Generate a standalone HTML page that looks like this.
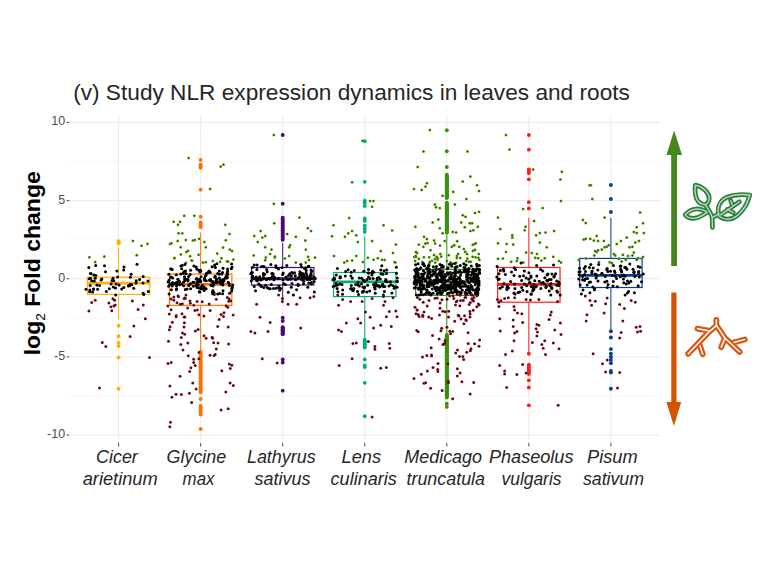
<!DOCTYPE html>
<html><head><meta charset="utf-8"><style>
html,body{margin:0;padding:0;background:#fff;}
svg{display:block;}
.tk{font-family:"Liberation Sans",Arial,sans-serif;font-size:12.5px;fill:#4d4d4d;}
.xl{font-family:"Liberation Sans",Arial,sans-serif;font-style:italic;font-size:17.8px;fill:#262626;}
.ti{font-family:"Liberation Sans",Arial,sans-serif;font-size:21.2px;fill:#262626;}
.yt{font-family:"Liberation Sans",Arial,sans-serif;font-weight:bold;font-size:22.8px;fill:#000;}
</style></head><body>
<svg width="768" height="576" viewBox="0 0 768 576">
<defs><radialGradient id="gg"><stop offset="0" stop-color="#2c5a06"/><stop offset="0.55" stop-color="#3f7a0a"/><stop offset="1" stop-color="#7cc21a"/></radialGradient><radialGradient id="rg"><stop offset="0" stop-color="#4a0610"/><stop offset="0.6" stop-color="#5e0c18"/><stop offset="1" stop-color="#9a1a28"/></radialGradient></defs>
<rect width="768" height="576" fill="#fff"/>
<line x1="69.4" x2="660.1" y1="395.98" y2="395.98" stroke="#f2f2f2" stroke-width="0.6"/>
<line x1="69.4" x2="660.1" y1="317.82" y2="317.82" stroke="#f2f2f2" stroke-width="0.6"/>
<line x1="69.4" x2="660.1" y1="239.68" y2="239.68" stroke="#f2f2f2" stroke-width="0.6"/>
<line x1="69.4" x2="660.1" y1="161.52" y2="161.52" stroke="#f2f2f2" stroke-width="0.6"/>
<line x1="69.4" x2="660.1" y1="435.05" y2="435.05" stroke="#ebebeb" stroke-width="1"/>
<line x1="69.4" x2="660.1" y1="356.90" y2="356.90" stroke="#ebebeb" stroke-width="1"/>
<line x1="69.4" x2="660.1" y1="278.75" y2="278.75" stroke="#ebebeb" stroke-width="1"/>
<line x1="69.4" x2="660.1" y1="200.60" y2="200.60" stroke="#ebebeb" stroke-width="1"/>
<line x1="69.4" x2="660.1" y1="122.45" y2="122.45" stroke="#ebebeb" stroke-width="1"/>
<line x1="118.60" x2="118.60" y1="114.8" y2="443.0" stroke="#ebebeb" stroke-width="1"/>
<line x1="200.65" x2="200.65" y1="114.8" y2="443.0" stroke="#ebebeb" stroke-width="1"/>
<line x1="282.70" x2="282.70" y1="114.8" y2="443.0" stroke="#ebebeb" stroke-width="1"/>
<line x1="364.75" x2="364.75" y1="114.8" y2="443.0" stroke="#ebebeb" stroke-width="1"/>
<line x1="446.80" x2="446.80" y1="114.8" y2="443.0" stroke="#ebebeb" stroke-width="1"/>
<line x1="528.85" x2="528.85" y1="114.8" y2="443.0" stroke="#ebebeb" stroke-width="1"/>
<line x1="610.90" x2="610.90" y1="114.8" y2="443.0" stroke="#ebebeb" stroke-width="1"/>
<line x1="118.60" x2="118.60" y1="247.49" y2="277.19" stroke="#ffb000" stroke-width="1"/>
<line x1="118.60" x2="118.60" y1="294.38" y2="320.01" stroke="#ffb000" stroke-width="1"/>
<rect x="87.40" y="277.19" width="62.4" height="17.19" fill="none" stroke="#ffb000" stroke-width="1.2"/>
<line x1="87.40" x2="149.80" y1="283.13" y2="283.13" stroke="#ffb000" stroke-width="2.8"/>
<circle cx="118.60" cy="243.58" r="1.95" fill="#ffb000"/>
<circle cx="118.60" cy="242.80" r="1.95" fill="#ffb000"/>
<circle cx="118.60" cy="241.24" r="1.95" fill="#ffb000"/>
<circle cx="118.60" cy="325.64" r="1.95" fill="#ffb000"/>
<circle cx="118.60" cy="336.27" r="1.95" fill="#ffb000"/>
<circle cx="118.60" cy="342.83" r="1.95" fill="#ffb000"/>
<circle cx="118.60" cy="345.96" r="1.95" fill="#ffb000"/>
<circle cx="118.60" cy="357.53" r="1.95" fill="#ffb000"/>
<circle cx="118.60" cy="388.79" r="1.95" fill="#ffb000"/>
<line x1="200.65" x2="200.65" y1="232.49" y2="274.06" stroke="#ff7000" stroke-width="1"/>
<line x1="200.65" x2="200.65" y1="305.32" y2="350.65" stroke="#ff7000" stroke-width="1"/>
<rect x="169.45" y="274.06" width="62.4" height="31.26" fill="none" stroke="#ff7000" stroke-width="1.2"/>
<line x1="169.45" x2="231.85" y1="284.38" y2="284.38" stroke="#ff7000" stroke-width="2.8"/>
<circle cx="200.65" cy="227.17" r="1.95" fill="#ff7000"/>
<circle cx="200.65" cy="225.61" r="1.95" fill="#ff7000"/>
<circle cx="200.65" cy="224.04" r="1.95" fill="#ff7000"/>
<circle cx="200.65" cy="222.48" r="1.95" fill="#ff7000"/>
<circle cx="200.65" cy="216.70" r="1.95" fill="#ff7000"/>
<circle cx="200.65" cy="189.66" r="1.95" fill="#ff7000"/>
<circle cx="200.65" cy="167.78" r="1.95" fill="#ff7000"/>
<circle cx="200.65" cy="166.21" r="1.95" fill="#ff7000"/>
<circle cx="200.65" cy="164.65" r="1.95" fill="#ff7000"/>
<circle cx="200.65" cy="159.96" r="1.95" fill="#ff7000"/>
<circle cx="200.65" cy="351.59" r="1.95" fill="#ff7000"/>
<circle cx="200.65" cy="353.15" r="1.95" fill="#ff7000"/>
<circle cx="200.65" cy="354.71" r="1.95" fill="#ff7000"/>
<circle cx="200.65" cy="356.27" r="1.95" fill="#ff7000"/>
<circle cx="200.65" cy="357.84" r="1.95" fill="#ff7000"/>
<circle cx="200.65" cy="359.40" r="1.95" fill="#ff7000"/>
<circle cx="200.65" cy="360.96" r="1.95" fill="#ff7000"/>
<circle cx="200.65" cy="362.53" r="1.95" fill="#ff7000"/>
<circle cx="200.65" cy="364.09" r="1.95" fill="#ff7000"/>
<circle cx="200.65" cy="365.65" r="1.95" fill="#ff7000"/>
<circle cx="200.65" cy="367.22" r="1.95" fill="#ff7000"/>
<circle cx="200.65" cy="368.78" r="1.95" fill="#ff7000"/>
<circle cx="200.65" cy="370.34" r="1.95" fill="#ff7000"/>
<circle cx="200.65" cy="371.90" r="1.95" fill="#ff7000"/>
<circle cx="200.65" cy="373.47" r="1.95" fill="#ff7000"/>
<circle cx="200.65" cy="375.03" r="1.95" fill="#ff7000"/>
<circle cx="200.65" cy="376.59" r="1.95" fill="#ff7000"/>
<circle cx="200.65" cy="378.16" r="1.95" fill="#ff7000"/>
<circle cx="200.65" cy="379.72" r="1.95" fill="#ff7000"/>
<circle cx="200.65" cy="381.28" r="1.95" fill="#ff7000"/>
<circle cx="200.65" cy="382.85" r="1.95" fill="#ff7000"/>
<circle cx="200.65" cy="384.41" r="1.95" fill="#ff7000"/>
<circle cx="200.65" cy="385.97" r="1.95" fill="#ff7000"/>
<circle cx="200.65" cy="387.53" r="1.95" fill="#ff7000"/>
<circle cx="200.65" cy="389.10" r="1.95" fill="#ff7000"/>
<circle cx="200.65" cy="390.66" r="1.95" fill="#ff7000"/>
<circle cx="200.65" cy="392.22" r="1.95" fill="#ff7000"/>
<circle cx="200.65" cy="398.94" r="1.95" fill="#ff7000"/>
<circle cx="200.65" cy="405.98" r="1.95" fill="#ff7000"/>
<circle cx="200.65" cy="407.54" r="1.95" fill="#ff7000"/>
<circle cx="200.65" cy="409.10" r="1.95" fill="#ff7000"/>
<circle cx="200.65" cy="410.67" r="1.95" fill="#ff7000"/>
<circle cx="200.65" cy="412.23" r="1.95" fill="#ff7000"/>
<circle cx="200.65" cy="414.57" r="1.95" fill="#ff7000"/>
<circle cx="200.65" cy="428.95" r="1.95" fill="#ff7000"/>
<line x1="282.70" x2="282.70" y1="242.80" y2="267.50" stroke="#4b0a78" stroke-width="1"/>
<line x1="282.70" x2="282.70" y1="285.00" y2="300.63" stroke="#4b0a78" stroke-width="1"/>
<rect x="251.50" y="267.50" width="62.4" height="17.51" fill="none" stroke="#4b0a78" stroke-width="1.2"/>
<line x1="251.50" x2="313.90" y1="278.75" y2="278.75" stroke="#4b0a78" stroke-width="2.8"/>
<circle cx="282.70" cy="239.68" r="1.95" fill="#4b0a78"/>
<circle cx="282.70" cy="238.11" r="1.95" fill="#4b0a78"/>
<circle cx="282.70" cy="236.55" r="1.95" fill="#4b0a78"/>
<circle cx="282.70" cy="234.99" r="1.95" fill="#4b0a78"/>
<circle cx="282.70" cy="233.42" r="1.95" fill="#4b0a78"/>
<circle cx="282.70" cy="231.86" r="1.95" fill="#4b0a78"/>
<circle cx="282.70" cy="230.30" r="1.95" fill="#4b0a78"/>
<circle cx="282.70" cy="228.73" r="1.95" fill="#4b0a78"/>
<circle cx="282.70" cy="227.17" r="1.95" fill="#4b0a78"/>
<circle cx="282.70" cy="225.61" r="1.95" fill="#4b0a78"/>
<circle cx="282.70" cy="224.04" r="1.95" fill="#4b0a78"/>
<circle cx="282.70" cy="222.48" r="1.95" fill="#4b0a78"/>
<circle cx="282.70" cy="220.92" r="1.95" fill="#4b0a78"/>
<circle cx="282.70" cy="219.36" r="1.95" fill="#4b0a78"/>
<circle cx="282.70" cy="217.79" r="1.95" fill="#4b0a78"/>
<circle cx="282.70" cy="203.73" r="1.95" fill="#4b0a78"/>
<circle cx="282.70" cy="134.95" r="1.95" fill="#4b0a78"/>
<circle cx="282.70" cy="317.82" r="1.95" fill="#4b0a78"/>
<circle cx="282.70" cy="320.95" r="1.95" fill="#4b0a78"/>
<circle cx="282.70" cy="327.20" r="1.95" fill="#4b0a78"/>
<circle cx="282.70" cy="327.98" r="1.95" fill="#4b0a78"/>
<circle cx="282.70" cy="328.77" r="1.95" fill="#4b0a78"/>
<circle cx="282.70" cy="329.55" r="1.95" fill="#4b0a78"/>
<circle cx="282.70" cy="330.33" r="1.95" fill="#4b0a78"/>
<circle cx="282.70" cy="331.11" r="1.95" fill="#4b0a78"/>
<circle cx="282.70" cy="331.89" r="1.95" fill="#4b0a78"/>
<circle cx="282.70" cy="332.67" r="1.95" fill="#4b0a78"/>
<circle cx="282.70" cy="333.45" r="1.95" fill="#4b0a78"/>
<circle cx="282.70" cy="334.24" r="1.95" fill="#4b0a78"/>
<circle cx="282.70" cy="359.40" r="1.95" fill="#4b0a78"/>
<circle cx="282.70" cy="362.53" r="1.95" fill="#4b0a78"/>
<circle cx="282.70" cy="390.66" r="1.95" fill="#4b0a78"/>
<line x1="364.75" x2="364.75" y1="236.55" y2="272.50" stroke="#00b070" stroke-width="1"/>
<line x1="364.75" x2="364.75" y1="296.57" y2="338.14" stroke="#00b070" stroke-width="1"/>
<rect x="333.55" y="272.50" width="62.4" height="24.07" fill="none" stroke="#00b070" stroke-width="1.2"/>
<line x1="333.55" x2="395.95" y1="281.88" y2="281.88" stroke="#00b070" stroke-width="2.8"/>
<circle cx="364.75" cy="231.86" r="1.95" fill="#00b070"/>
<circle cx="364.75" cy="228.73" r="1.95" fill="#00b070"/>
<circle cx="364.75" cy="225.61" r="1.95" fill="#00b070"/>
<circle cx="364.75" cy="220.92" r="1.95" fill="#00b070"/>
<circle cx="364.75" cy="218.42" r="1.95" fill="#00b070"/>
<circle cx="364.75" cy="206.07" r="1.95" fill="#00b070"/>
<circle cx="364.75" cy="202.94" r="1.95" fill="#00b070"/>
<circle cx="364.75" cy="200.60" r="1.95" fill="#00b070"/>
<circle cx="364.75" cy="181.84" r="1.95" fill="#00b070"/>
<circle cx="364.75" cy="141.21" r="1.95" fill="#00b070"/>
<circle cx="364.75" cy="339.71" r="1.95" fill="#00b070"/>
<circle cx="364.75" cy="341.27" r="1.95" fill="#00b070"/>
<circle cx="364.75" cy="342.83" r="1.95" fill="#00b070"/>
<circle cx="364.75" cy="344.40" r="1.95" fill="#00b070"/>
<circle cx="364.75" cy="345.96" r="1.95" fill="#00b070"/>
<circle cx="364.75" cy="347.52" r="1.95" fill="#00b070"/>
<circle cx="364.75" cy="359.40" r="1.95" fill="#00b070"/>
<circle cx="364.75" cy="365.50" r="1.95" fill="#00b070"/>
<circle cx="364.75" cy="367.06" r="1.95" fill="#00b070"/>
<circle cx="364.75" cy="382.85" r="1.95" fill="#00b070"/>
<circle cx="364.75" cy="416.29" r="1.95" fill="#00b070"/>
<line x1="446.80" x2="446.80" y1="233.42" y2="269.37" stroke="#3a9010" stroke-width="1"/>
<line x1="446.80" x2="446.80" y1="295.32" y2="335.02" stroke="#3a9010" stroke-width="1"/>
<rect x="415.60" y="269.37" width="62.4" height="25.95" fill="none" stroke="#3a9010" stroke-width="1.2"/>
<line x1="415.60" x2="478.00" y1="281.88" y2="281.88" stroke="#3a9010" stroke-width="2.8"/>
<circle cx="446.80" cy="232.49" r="1.95" fill="#3a9010"/>
<circle cx="446.80" cy="231.70" r="1.95" fill="#3a9010"/>
<circle cx="446.80" cy="230.92" r="1.95" fill="#3a9010"/>
<circle cx="446.80" cy="230.14" r="1.95" fill="#3a9010"/>
<circle cx="446.80" cy="229.36" r="1.95" fill="#3a9010"/>
<circle cx="446.80" cy="228.58" r="1.95" fill="#3a9010"/>
<circle cx="446.80" cy="227.80" r="1.95" fill="#3a9010"/>
<circle cx="446.80" cy="227.01" r="1.95" fill="#3a9010"/>
<circle cx="446.80" cy="226.23" r="1.95" fill="#3a9010"/>
<circle cx="446.80" cy="225.45" r="1.95" fill="#3a9010"/>
<circle cx="446.80" cy="224.67" r="1.95" fill="#3a9010"/>
<circle cx="446.80" cy="223.89" r="1.95" fill="#3a9010"/>
<circle cx="446.80" cy="223.11" r="1.95" fill="#3a9010"/>
<circle cx="446.80" cy="222.33" r="1.95" fill="#3a9010"/>
<circle cx="446.80" cy="221.54" r="1.95" fill="#3a9010"/>
<circle cx="446.80" cy="220.76" r="1.95" fill="#3a9010"/>
<circle cx="446.80" cy="219.98" r="1.95" fill="#3a9010"/>
<circle cx="446.80" cy="219.20" r="1.95" fill="#3a9010"/>
<circle cx="446.80" cy="218.42" r="1.95" fill="#3a9010"/>
<circle cx="446.80" cy="217.64" r="1.95" fill="#3a9010"/>
<circle cx="446.80" cy="216.86" r="1.95" fill="#3a9010"/>
<circle cx="446.80" cy="216.07" r="1.95" fill="#3a9010"/>
<circle cx="446.80" cy="215.29" r="1.95" fill="#3a9010"/>
<circle cx="446.80" cy="214.51" r="1.95" fill="#3a9010"/>
<circle cx="446.80" cy="213.73" r="1.95" fill="#3a9010"/>
<circle cx="446.80" cy="212.95" r="1.95" fill="#3a9010"/>
<circle cx="446.80" cy="212.17" r="1.95" fill="#3a9010"/>
<circle cx="446.80" cy="211.38" r="1.95" fill="#3a9010"/>
<circle cx="446.80" cy="210.60" r="1.95" fill="#3a9010"/>
<circle cx="446.80" cy="209.82" r="1.95" fill="#3a9010"/>
<circle cx="446.80" cy="209.04" r="1.95" fill="#3a9010"/>
<circle cx="446.80" cy="208.26" r="1.95" fill="#3a9010"/>
<circle cx="446.80" cy="207.48" r="1.95" fill="#3a9010"/>
<circle cx="446.80" cy="206.70" r="1.95" fill="#3a9010"/>
<circle cx="446.80" cy="205.91" r="1.95" fill="#3a9010"/>
<circle cx="446.80" cy="205.13" r="1.95" fill="#3a9010"/>
<circle cx="446.80" cy="204.35" r="1.95" fill="#3a9010"/>
<circle cx="446.80" cy="203.57" r="1.95" fill="#3a9010"/>
<circle cx="446.80" cy="202.79" r="1.95" fill="#3a9010"/>
<circle cx="446.80" cy="198.10" r="1.95" fill="#3a9010"/>
<circle cx="446.80" cy="197.32" r="1.95" fill="#3a9010"/>
<circle cx="446.80" cy="196.54" r="1.95" fill="#3a9010"/>
<circle cx="446.80" cy="195.75" r="1.95" fill="#3a9010"/>
<circle cx="446.80" cy="194.97" r="1.95" fill="#3a9010"/>
<circle cx="446.80" cy="194.19" r="1.95" fill="#3a9010"/>
<circle cx="446.80" cy="193.41" r="1.95" fill="#3a9010"/>
<circle cx="446.80" cy="192.63" r="1.95" fill="#3a9010"/>
<circle cx="446.80" cy="191.85" r="1.95" fill="#3a9010"/>
<circle cx="446.80" cy="191.07" r="1.95" fill="#3a9010"/>
<circle cx="446.80" cy="190.28" r="1.95" fill="#3a9010"/>
<circle cx="446.80" cy="189.50" r="1.95" fill="#3a9010"/>
<circle cx="446.80" cy="188.72" r="1.95" fill="#3a9010"/>
<circle cx="446.80" cy="187.94" r="1.95" fill="#3a9010"/>
<circle cx="446.80" cy="187.16" r="1.95" fill="#3a9010"/>
<circle cx="446.80" cy="186.38" r="1.95" fill="#3a9010"/>
<circle cx="446.80" cy="185.60" r="1.95" fill="#3a9010"/>
<circle cx="446.80" cy="184.81" r="1.95" fill="#3a9010"/>
<circle cx="446.80" cy="184.03" r="1.95" fill="#3a9010"/>
<circle cx="446.80" cy="183.25" r="1.95" fill="#3a9010"/>
<circle cx="446.80" cy="182.47" r="1.95" fill="#3a9010"/>
<circle cx="446.80" cy="181.69" r="1.95" fill="#3a9010"/>
<circle cx="446.80" cy="180.91" r="1.95" fill="#3a9010"/>
<circle cx="446.80" cy="180.12" r="1.95" fill="#3a9010"/>
<circle cx="446.80" cy="179.34" r="1.95" fill="#3a9010"/>
<circle cx="446.80" cy="178.56" r="1.95" fill="#3a9010"/>
<circle cx="446.80" cy="177.78" r="1.95" fill="#3a9010"/>
<circle cx="446.80" cy="177.00" r="1.95" fill="#3a9010"/>
<circle cx="446.80" cy="176.22" r="1.95" fill="#3a9010"/>
<circle cx="446.80" cy="175.44" r="1.95" fill="#3a9010"/>
<circle cx="446.80" cy="174.65" r="1.95" fill="#3a9010"/>
<circle cx="446.80" cy="167.00" r="1.95" fill="#3a9010"/>
<circle cx="446.80" cy="151.21" r="1.95" fill="#3a9010"/>
<circle cx="446.80" cy="130.26" r="1.95" fill="#3a9010"/>
<circle cx="446.80" cy="335.02" r="1.95" fill="#3a9010"/>
<circle cx="446.80" cy="335.80" r="1.95" fill="#3a9010"/>
<circle cx="446.80" cy="336.58" r="1.95" fill="#3a9010"/>
<circle cx="446.80" cy="337.36" r="1.95" fill="#3a9010"/>
<circle cx="446.80" cy="338.14" r="1.95" fill="#3a9010"/>
<circle cx="446.80" cy="338.93" r="1.95" fill="#3a9010"/>
<circle cx="446.80" cy="339.71" r="1.95" fill="#3a9010"/>
<circle cx="446.80" cy="340.49" r="1.95" fill="#3a9010"/>
<circle cx="446.80" cy="341.27" r="1.95" fill="#3a9010"/>
<circle cx="446.80" cy="342.05" r="1.95" fill="#3a9010"/>
<circle cx="446.80" cy="342.83" r="1.95" fill="#3a9010"/>
<circle cx="446.80" cy="343.61" r="1.95" fill="#3a9010"/>
<circle cx="446.80" cy="344.40" r="1.95" fill="#3a9010"/>
<circle cx="446.80" cy="345.18" r="1.95" fill="#3a9010"/>
<circle cx="446.80" cy="345.96" r="1.95" fill="#3a9010"/>
<circle cx="446.80" cy="346.74" r="1.95" fill="#3a9010"/>
<circle cx="446.80" cy="347.52" r="1.95" fill="#3a9010"/>
<circle cx="446.80" cy="348.30" r="1.95" fill="#3a9010"/>
<circle cx="446.80" cy="349.09" r="1.95" fill="#3a9010"/>
<circle cx="446.80" cy="349.87" r="1.95" fill="#3a9010"/>
<circle cx="446.80" cy="350.65" r="1.95" fill="#3a9010"/>
<circle cx="446.80" cy="351.43" r="1.95" fill="#3a9010"/>
<circle cx="446.80" cy="352.21" r="1.95" fill="#3a9010"/>
<circle cx="446.80" cy="352.99" r="1.95" fill="#3a9010"/>
<circle cx="446.80" cy="353.77" r="1.95" fill="#3a9010"/>
<circle cx="446.80" cy="354.56" r="1.95" fill="#3a9010"/>
<circle cx="446.80" cy="355.34" r="1.95" fill="#3a9010"/>
<circle cx="446.80" cy="356.12" r="1.95" fill="#3a9010"/>
<circle cx="446.80" cy="356.90" r="1.95" fill="#3a9010"/>
<circle cx="446.80" cy="357.68" r="1.95" fill="#3a9010"/>
<circle cx="446.80" cy="358.46" r="1.95" fill="#3a9010"/>
<circle cx="446.80" cy="359.24" r="1.95" fill="#3a9010"/>
<circle cx="446.80" cy="360.03" r="1.95" fill="#3a9010"/>
<circle cx="446.80" cy="360.81" r="1.95" fill="#3a9010"/>
<circle cx="446.80" cy="361.59" r="1.95" fill="#3a9010"/>
<circle cx="446.80" cy="362.37" r="1.95" fill="#3a9010"/>
<circle cx="446.80" cy="363.15" r="1.95" fill="#3a9010"/>
<circle cx="446.80" cy="363.93" r="1.95" fill="#3a9010"/>
<circle cx="446.80" cy="364.72" r="1.95" fill="#3a9010"/>
<circle cx="446.80" cy="365.50" r="1.95" fill="#3a9010"/>
<circle cx="446.80" cy="366.28" r="1.95" fill="#3a9010"/>
<circle cx="446.80" cy="367.06" r="1.95" fill="#3a9010"/>
<circle cx="446.80" cy="367.84" r="1.95" fill="#3a9010"/>
<circle cx="446.80" cy="368.62" r="1.95" fill="#3a9010"/>
<circle cx="446.80" cy="369.40" r="1.95" fill="#3a9010"/>
<circle cx="446.80" cy="370.19" r="1.95" fill="#3a9010"/>
<circle cx="446.80" cy="370.97" r="1.95" fill="#3a9010"/>
<circle cx="446.80" cy="371.75" r="1.95" fill="#3a9010"/>
<circle cx="446.80" cy="372.53" r="1.95" fill="#3a9010"/>
<circle cx="446.80" cy="373.31" r="1.95" fill="#3a9010"/>
<circle cx="446.80" cy="374.09" r="1.95" fill="#3a9010"/>
<circle cx="446.80" cy="374.87" r="1.95" fill="#3a9010"/>
<circle cx="446.80" cy="375.66" r="1.95" fill="#3a9010"/>
<circle cx="446.80" cy="376.44" r="1.95" fill="#3a9010"/>
<circle cx="446.80" cy="377.22" r="1.95" fill="#3a9010"/>
<circle cx="446.80" cy="378.00" r="1.95" fill="#3a9010"/>
<circle cx="446.80" cy="378.78" r="1.95" fill="#3a9010"/>
<circle cx="446.80" cy="379.56" r="1.95" fill="#3a9010"/>
<circle cx="446.80" cy="380.35" r="1.95" fill="#3a9010"/>
<circle cx="446.80" cy="381.13" r="1.95" fill="#3a9010"/>
<circle cx="446.80" cy="381.91" r="1.95" fill="#3a9010"/>
<circle cx="446.80" cy="382.69" r="1.95" fill="#3a9010"/>
<circle cx="446.80" cy="383.47" r="1.95" fill="#3a9010"/>
<circle cx="446.80" cy="384.25" r="1.95" fill="#3a9010"/>
<circle cx="446.80" cy="385.03" r="1.95" fill="#3a9010"/>
<circle cx="446.80" cy="385.82" r="1.95" fill="#3a9010"/>
<circle cx="446.80" cy="386.60" r="1.95" fill="#3a9010"/>
<circle cx="446.80" cy="387.38" r="1.95" fill="#3a9010"/>
<circle cx="446.80" cy="388.16" r="1.95" fill="#3a9010"/>
<circle cx="446.80" cy="388.94" r="1.95" fill="#3a9010"/>
<circle cx="446.80" cy="389.72" r="1.95" fill="#3a9010"/>
<circle cx="446.80" cy="390.50" r="1.95" fill="#3a9010"/>
<circle cx="446.80" cy="391.29" r="1.95" fill="#3a9010"/>
<circle cx="446.80" cy="392.07" r="1.95" fill="#3a9010"/>
<circle cx="446.80" cy="392.85" r="1.95" fill="#3a9010"/>
<circle cx="446.80" cy="393.63" r="1.95" fill="#3a9010"/>
<circle cx="446.80" cy="394.41" r="1.95" fill="#3a9010"/>
<circle cx="446.80" cy="395.19" r="1.95" fill="#3a9010"/>
<circle cx="446.80" cy="395.98" r="1.95" fill="#3a9010"/>
<circle cx="446.80" cy="396.76" r="1.95" fill="#3a9010"/>
<circle cx="446.80" cy="397.54" r="1.95" fill="#3a9010"/>
<circle cx="446.80" cy="403.79" r="1.95" fill="#3a9010"/>
<circle cx="446.80" cy="406.92" r="1.95" fill="#3a9010"/>
<line x1="528.85" x2="528.85" y1="217.79" y2="267.50" stroke="#ff1a1a" stroke-width="1"/>
<line x1="528.85" x2="528.85" y1="302.19" y2="353.77" stroke="#ff1a1a" stroke-width="1"/>
<rect x="497.65" y="267.50" width="62.4" height="34.70" fill="none" stroke="#ff1a1a" stroke-width="1.2"/>
<line x1="497.65" x2="560.05" y1="284.38" y2="284.38" stroke="#ff1a1a" stroke-width="2.8"/>
<circle cx="528.85" cy="208.41" r="1.95" fill="#ff1a1a"/>
<circle cx="528.85" cy="202.16" r="1.95" fill="#ff1a1a"/>
<circle cx="528.85" cy="179.34" r="1.95" fill="#ff1a1a"/>
<circle cx="528.85" cy="172.93" r="1.95" fill="#ff1a1a"/>
<circle cx="528.85" cy="170.90" r="1.95" fill="#ff1a1a"/>
<circle cx="528.85" cy="169.34" r="1.95" fill="#ff1a1a"/>
<circle cx="528.85" cy="149.65" r="1.95" fill="#ff1a1a"/>
<circle cx="528.85" cy="134.95" r="1.95" fill="#ff1a1a"/>
<circle cx="528.85" cy="353.77" r="1.95" fill="#ff1a1a"/>
<circle cx="528.85" cy="364.72" r="1.95" fill="#ff1a1a"/>
<circle cx="528.85" cy="366.28" r="1.95" fill="#ff1a1a"/>
<circle cx="528.85" cy="367.84" r="1.95" fill="#ff1a1a"/>
<circle cx="528.85" cy="369.40" r="1.95" fill="#ff1a1a"/>
<circle cx="528.85" cy="370.97" r="1.95" fill="#ff1a1a"/>
<circle cx="528.85" cy="372.53" r="1.95" fill="#ff1a1a"/>
<circle cx="528.85" cy="374.09" r="1.95" fill="#ff1a1a"/>
<circle cx="528.85" cy="380.35" r="1.95" fill="#ff1a1a"/>
<circle cx="528.85" cy="387.53" r="1.95" fill="#ff1a1a"/>
<circle cx="528.85" cy="405.35" r="1.95" fill="#ff1a1a"/>
<line x1="610.90" x2="610.90" y1="217.79" y2="258.43" stroke="#0b3d91" stroke-width="1"/>
<line x1="610.90" x2="610.90" y1="287.50" y2="330.33" stroke="#0b3d91" stroke-width="1"/>
<rect x="579.70" y="258.43" width="62.4" height="29.07" fill="none" stroke="#0b3d91" stroke-width="1.2"/>
<line x1="579.70" x2="642.10" y1="275.31" y2="275.31" stroke="#0b3d91" stroke-width="2.8"/>
<circle cx="610.90" cy="212.01" r="1.95" fill="#0b3d91"/>
<circle cx="610.90" cy="199.04" r="1.95" fill="#0b3d91"/>
<circle cx="610.90" cy="184.97" r="1.95" fill="#0b3d91"/>
<circle cx="610.90" cy="331.27" r="1.95" fill="#0b3d91"/>
<circle cx="610.90" cy="337.52" r="1.95" fill="#0b3d91"/>
<circle cx="610.90" cy="349.09" r="1.95" fill="#0b3d91"/>
<circle cx="610.90" cy="353.77" r="1.95" fill="#0b3d91"/>
<circle cx="610.90" cy="356.90" r="1.95" fill="#0b3d91"/>
<circle cx="610.90" cy="360.03" r="1.95" fill="#0b3d91"/>
<circle cx="610.90" cy="363.15" r="1.95" fill="#0b3d91"/>
<circle cx="610.90" cy="370.97" r="1.95" fill="#0b3d91"/>
<circle cx="610.90" cy="372.53" r="1.95" fill="#0b3d91"/>
<circle cx="610.90" cy="388.79" r="1.95" fill="#0b3d91"/>
<circle cx="94.3" cy="280.9" r="1.5" fill="#000"/>
<circle cx="148.3" cy="291.4" r="1.5" fill="#000"/>
<circle cx="136.2" cy="280.7" r="1.5" fill="#000"/>
<circle cx="92.6" cy="292.1" r="1.5" fill="#000"/>
<circle cx="149.5" cy="357.5" r="1.5" fill="url(#rg)"/>
<circle cx="101.8" cy="279.1" r="1.5" fill="#000"/>
<circle cx="89.6" cy="291.8" r="1.5" fill="#000"/>
<circle cx="96.8" cy="284.9" r="1.5" fill="#000"/>
<circle cx="131.8" cy="284.8" r="1.5" fill="#000"/>
<circle cx="91.1" cy="273.8" r="1.5" fill="#000"/>
<circle cx="99.5" cy="285.6" r="1.5" fill="#000"/>
<circle cx="115.5" cy="288.0" r="1.5" fill="#000"/>
<circle cx="88.9" cy="311.1" r="1.5" fill="url(#rg)"/>
<circle cx="90.4" cy="273.4" r="1.5" fill="#000"/>
<circle cx="116.1" cy="284.1" r="1.5" fill="#000"/>
<circle cx="123.7" cy="270.1" r="1.5" fill="#000"/>
<circle cx="113.8" cy="280.8" r="1.5" fill="#000"/>
<circle cx="99.5" cy="388.1" r="1.5" fill="url(#rg)"/>
<circle cx="93.5" cy="289.1" r="1.5" fill="#000"/>
<circle cx="112.9" cy="298.8" r="1.5" fill="url(#rg)"/>
<circle cx="89.4" cy="257.2" r="1.5" fill="url(#gg)"/>
<circle cx="143.3" cy="305.1" r="1.5" fill="url(#rg)"/>
<circle cx="106.4" cy="291.6" r="1.5" fill="#000"/>
<circle cx="130.1" cy="336.6" r="1.5" fill="url(#rg)"/>
<circle cx="148.0" cy="280.9" r="1.5" fill="#000"/>
<circle cx="123.8" cy="287.4" r="1.5" fill="#000"/>
<circle cx="104.3" cy="256.6" r="1.5" fill="url(#gg)"/>
<circle cx="95.8" cy="275.4" r="1.5" fill="#000"/>
<circle cx="115.7" cy="295.0" r="1.5" fill="#000"/>
<circle cx="129.6" cy="285.8" r="1.5" fill="#000"/>
<circle cx="139.6" cy="279.4" r="1.5" fill="#000"/>
<circle cx="95.7" cy="265.5" r="1.5" fill="#000"/>
<circle cx="91.7" cy="302.5" r="1.5" fill="url(#rg)"/>
<circle cx="111.8" cy="310.8" r="1.5" fill="url(#rg)"/>
<circle cx="108.9" cy="303.0" r="1.5" fill="url(#rg)"/>
<circle cx="133.7" cy="288.3" r="1.5" fill="#000"/>
<circle cx="112.0" cy="280.4" r="1.5" fill="#000"/>
<circle cx="132.4" cy="301.0" r="1.5" fill="url(#rg)"/>
<circle cx="113.0" cy="278.2" r="1.5" fill="#000"/>
<circle cx="90.2" cy="285.4" r="1.5" fill="#000"/>
<circle cx="91.7" cy="280.8" r="1.5" fill="#000"/>
<circle cx="143.8" cy="294.4" r="1.5" fill="#000"/>
<circle cx="115.2" cy="305.1" r="1.5" fill="url(#rg)"/>
<circle cx="113.3" cy="287.0" r="1.5" fill="#000"/>
<circle cx="131.1" cy="274.3" r="1.5" fill="#000"/>
<circle cx="111.1" cy="283.9" r="1.5" fill="#000"/>
<circle cx="143.2" cy="276.4" r="1.5" fill="#000"/>
<circle cx="102.3" cy="342.6" r="1.5" fill="url(#rg)"/>
<circle cx="93.5" cy="289.3" r="1.5" fill="#000"/>
<circle cx="130.2" cy="284.4" r="1.5" fill="#000"/>
<circle cx="124.0" cy="267.0" r="1.5" fill="#000"/>
<circle cx="90.5" cy="278.3" r="1.5" fill="#000"/>
<circle cx="104.5" cy="265.7" r="1.5" fill="#000"/>
<circle cx="136.7" cy="255.2" r="1.5" fill="url(#gg)"/>
<circle cx="113.8" cy="305.9" r="1.5" fill="url(#rg)"/>
<circle cx="137.0" cy="264.2" r="1.5" fill="#000"/>
<circle cx="116.9" cy="271.0" r="1.5" fill="#000"/>
<circle cx="130.4" cy="277.2" r="1.5" fill="#000"/>
<circle cx="114.6" cy="300.2" r="1.5" fill="url(#rg)"/>
<circle cx="143.2" cy="293.3" r="1.5" fill="#000"/>
<circle cx="117.6" cy="277.0" r="1.5" fill="#000"/>
<circle cx="93.9" cy="275.1" r="1.5" fill="#000"/>
<circle cx="145.3" cy="318.8" r="1.5" fill="url(#rg)"/>
<circle cx="95.2" cy="278.2" r="1.5" fill="#000"/>
<circle cx="143.0" cy="283.0" r="1.5" fill="#000"/>
<circle cx="95.2" cy="262.1" r="1.5" fill="url(#gg)"/>
<circle cx="141.5" cy="245.8" r="1.5" fill="url(#gg)"/>
<circle cx="89.2" cy="278.7" r="1.5" fill="#000"/>
<circle cx="147.5" cy="243.8" r="1.5" fill="url(#gg)"/>
<circle cx="121.7" cy="288.9" r="1.5" fill="#000"/>
<circle cx="89.9" cy="290.1" r="1.5" fill="#000"/>
<circle cx="132.9" cy="240.9" r="1.5" fill="url(#gg)"/>
<circle cx="133.8" cy="326.0" r="1.5" fill="url(#rg)"/>
<circle cx="109.3" cy="288.8" r="1.5" fill="#000"/>
<circle cx="128.3" cy="286.0" r="1.5" fill="#000"/>
<circle cx="105.8" cy="346.6" r="1.5" fill="url(#rg)"/>
<circle cx="86.0" cy="289.3" r="1.5" fill="#000"/>
<circle cx="136.0" cy="282.9" r="1.5" fill="#000"/>
<circle cx="88.8" cy="267.6" r="1.5" fill="#000"/>
<circle cx="119.1" cy="285.1" r="1.5" fill="#000"/>
<circle cx="138.1" cy="309.6" r="1.5" fill="url(#rg)"/>
<circle cx="101.1" cy="280.1" r="1.5" fill="#000"/>
<circle cx="97.6" cy="289.3" r="1.5" fill="#000"/>
<circle cx="95.2" cy="300.2" r="1.5" fill="url(#rg)"/>
<circle cx="105.5" cy="271.7" r="1.5" fill="#000"/>
<circle cx="110.9" cy="306.8" r="1.5" fill="url(#rg)"/>
<circle cx="128.5" cy="285.5" r="1.5" fill="#000"/>
<circle cx="198.1" cy="329.6" r="1.5" fill="url(#rg)"/>
<circle cx="181.4" cy="394.6" r="1.5" fill="url(#rg)"/>
<circle cx="179.5" cy="284.8" r="1.5" fill="#000"/>
<circle cx="229.2" cy="284.0" r="1.5" fill="#000"/>
<circle cx="205.8" cy="247.3" r="1.5" fill="url(#gg)"/>
<circle cx="190.6" cy="288.7" r="1.5" fill="#000"/>
<circle cx="198.6" cy="254.8" r="1.5" fill="url(#gg)"/>
<circle cx="190.0" cy="301.0" r="1.5" fill="url(#rg)"/>
<circle cx="185.8" cy="239.9" r="1.5" fill="url(#gg)"/>
<circle cx="213.3" cy="283.7" r="1.5" fill="#000"/>
<circle cx="214.2" cy="282.9" r="1.5" fill="#000"/>
<circle cx="201.0" cy="288.7" r="1.5" fill="#000"/>
<circle cx="200.3" cy="270.2" r="1.5" fill="#000"/>
<circle cx="214.1" cy="355.4" r="1.5" fill="url(#rg)"/>
<circle cx="177.0" cy="302.7" r="1.5" fill="url(#rg)"/>
<circle cx="216.9" cy="263.7" r="1.5" fill="#000"/>
<circle cx="184.5" cy="276.8" r="1.5" fill="#000"/>
<circle cx="220.3" cy="280.0" r="1.5" fill="#000"/>
<circle cx="226.4" cy="275.7" r="1.5" fill="#000"/>
<circle cx="182.0" cy="313.7" r="1.5" fill="url(#rg)"/>
<circle cx="225.8" cy="392.0" r="1.5" fill="url(#rg)"/>
<circle cx="184.1" cy="271.6" r="1.5" fill="#000"/>
<circle cx="170.0" cy="243.9" r="1.5" fill="url(#gg)"/>
<circle cx="209.5" cy="280.1" r="1.5" fill="#000"/>
<circle cx="227.3" cy="297.4" r="1.5" fill="url(#rg)"/>
<circle cx="177.0" cy="283.8" r="1.5" fill="#000"/>
<circle cx="190.4" cy="283.7" r="1.5" fill="#000"/>
<circle cx="197.4" cy="310.0" r="1.5" fill="url(#rg)"/>
<circle cx="221.8" cy="370.8" r="1.5" fill="url(#rg)"/>
<circle cx="180.7" cy="274.0" r="1.5" fill="#000"/>
<circle cx="192.9" cy="282.2" r="1.5" fill="#000"/>
<circle cx="210.1" cy="355.3" r="1.5" fill="url(#rg)"/>
<circle cx="169.8" cy="426.8" r="1.5" fill="url(#rg)"/>
<circle cx="172.2" cy="285.9" r="1.5" fill="#000"/>
<circle cx="168.0" cy="363.5" r="1.5" fill="url(#rg)"/>
<circle cx="216.6" cy="279.2" r="1.5" fill="#000"/>
<circle cx="173.8" cy="300.2" r="1.5" fill="url(#rg)"/>
<circle cx="178.0" cy="295.7" r="1.5" fill="url(#rg)"/>
<circle cx="217.7" cy="293.9" r="1.5" fill="#000"/>
<circle cx="228.7" cy="301.3" r="1.5" fill="url(#rg)"/>
<circle cx="199.0" cy="352.4" r="1.5" fill="url(#rg)"/>
<circle cx="193.6" cy="359.2" r="1.5" fill="url(#rg)"/>
<circle cx="184.9" cy="317.1" r="1.5" fill="url(#rg)"/>
<circle cx="203.7" cy="288.4" r="1.5" fill="#000"/>
<circle cx="181.6" cy="284.1" r="1.5" fill="#000"/>
<circle cx="220.3" cy="281.5" r="1.5" fill="#000"/>
<circle cx="190.6" cy="270.3" r="1.5" fill="#000"/>
<circle cx="206.1" cy="288.7" r="1.5" fill="#000"/>
<circle cx="219.6" cy="293.5" r="1.5" fill="#000"/>
<circle cx="195.2" cy="365.6" r="1.5" fill="url(#rg)"/>
<circle cx="213.7" cy="284.3" r="1.5" fill="#000"/>
<circle cx="169.3" cy="329.8" r="1.5" fill="url(#rg)"/>
<circle cx="228.2" cy="326.9" r="1.5" fill="url(#rg)"/>
<circle cx="171.2" cy="362.4" r="1.5" fill="url(#rg)"/>
<circle cx="213.7" cy="342.7" r="1.5" fill="url(#rg)"/>
<circle cx="186.0" cy="273.8" r="1.5" fill="#000"/>
<circle cx="201.7" cy="287.1" r="1.5" fill="#000"/>
<circle cx="222.9" cy="282.4" r="1.5" fill="#000"/>
<circle cx="209.2" cy="304.0" r="1.5" fill="url(#rg)"/>
<circle cx="188.7" cy="285.4" r="1.5" fill="#000"/>
<circle cx="231.8" cy="365.2" r="1.5" fill="url(#rg)"/>
<circle cx="206.3" cy="280.7" r="1.5" fill="#000"/>
<circle cx="221.1" cy="410.1" r="1.5" fill="url(#rg)"/>
<circle cx="176.5" cy="285.7" r="1.5" fill="#000"/>
<circle cx="203.8" cy="287.1" r="1.5" fill="#000"/>
<circle cx="204.4" cy="241.9" r="1.5" fill="url(#gg)"/>
<circle cx="225.0" cy="278.2" r="1.5" fill="#000"/>
<circle cx="202.4" cy="285.4" r="1.5" fill="#000"/>
<circle cx="199.9" cy="292.1" r="1.5" fill="#000"/>
<circle cx="190.1" cy="256.2" r="1.5" fill="url(#gg)"/>
<circle cx="217.7" cy="273.5" r="1.5" fill="#000"/>
<circle cx="171.4" cy="243.3" r="1.5" fill="url(#gg)"/>
<circle cx="171.8" cy="269.5" r="1.5" fill="#000"/>
<circle cx="176.2" cy="315.6" r="1.5" fill="url(#rg)"/>
<circle cx="194.3" cy="215.8" r="1.5" fill="url(#gg)"/>
<circle cx="184.1" cy="317.0" r="1.5" fill="url(#rg)"/>
<circle cx="196.7" cy="284.3" r="1.5" fill="#000"/>
<circle cx="204.5" cy="278.2" r="1.5" fill="#000"/>
<circle cx="210.0" cy="280.4" r="1.5" fill="#000"/>
<circle cx="225.3" cy="224.7" r="1.5" fill="url(#gg)"/>
<circle cx="188.3" cy="355.7" r="1.5" fill="url(#rg)"/>
<circle cx="199.0" cy="281.5" r="1.5" fill="#000"/>
<circle cx="228.6" cy="343.9" r="1.5" fill="url(#rg)"/>
<circle cx="201.5" cy="288.8" r="1.5" fill="#000"/>
<circle cx="219.2" cy="274.3" r="1.5" fill="#000"/>
<circle cx="187.6" cy="307.9" r="1.5" fill="url(#rg)"/>
<circle cx="208.0" cy="272.5" r="1.5" fill="#000"/>
<circle cx="180.9" cy="266.1" r="1.5" fill="#000"/>
<circle cx="172.4" cy="322.2" r="1.5" fill="url(#rg)"/>
<circle cx="186.0" cy="295.0" r="1.5" fill="url(#rg)"/>
<circle cx="216.4" cy="282.8" r="1.5" fill="#000"/>
<circle cx="206.0" cy="275.3" r="1.5" fill="#000"/>
<circle cx="199.2" cy="238.8" r="1.5" fill="url(#gg)"/>
<circle cx="192.9" cy="240.5" r="1.5" fill="url(#gg)"/>
<circle cx="211.0" cy="285.0" r="1.5" fill="#000"/>
<circle cx="184.3" cy="215.8" r="1.5" fill="url(#gg)"/>
<circle cx="223.0" cy="290.8" r="1.5" fill="#000"/>
<circle cx="188.1" cy="281.0" r="1.5" fill="#000"/>
<circle cx="206.3" cy="273.4" r="1.5" fill="#000"/>
<circle cx="230.6" cy="300.9" r="1.5" fill="url(#rg)"/>
<circle cx="173.7" cy="221.8" r="1.5" fill="url(#gg)"/>
<circle cx="190.9" cy="367.8" r="1.5" fill="url(#rg)"/>
<circle cx="184.1" cy="298.7" r="1.5" fill="url(#rg)"/>
<circle cx="227.0" cy="261.3" r="1.5" fill="url(#gg)"/>
<circle cx="181.3" cy="337.6" r="1.5" fill="url(#rg)"/>
<circle cx="197.1" cy="301.5" r="1.5" fill="url(#rg)"/>
<circle cx="185.3" cy="298.2" r="1.5" fill="url(#rg)"/>
<circle cx="206.1" cy="338.3" r="1.5" fill="url(#rg)"/>
<circle cx="196.3" cy="285.8" r="1.5" fill="#000"/>
<circle cx="205.3" cy="276.1" r="1.5" fill="#000"/>
<circle cx="179.5" cy="281.9" r="1.5" fill="#000"/>
<circle cx="169.9" cy="284.4" r="1.5" fill="#000"/>
<circle cx="214.6" cy="265.0" r="1.5" fill="#000"/>
<circle cx="220.6" cy="283.7" r="1.5" fill="#000"/>
<circle cx="171.4" cy="289.7" r="1.5" fill="#000"/>
<circle cx="215.2" cy="276.2" r="1.5" fill="#000"/>
<circle cx="172.6" cy="277.9" r="1.5" fill="#000"/>
<circle cx="194.1" cy="282.3" r="1.5" fill="#000"/>
<circle cx="229.4" cy="285.4" r="1.5" fill="#000"/>
<circle cx="231.3" cy="268.8" r="1.5" fill="#000"/>
<circle cx="228.2" cy="408.8" r="1.5" fill="url(#rg)"/>
<circle cx="197.1" cy="287.6" r="1.5" fill="#000"/>
<circle cx="232.2" cy="287.2" r="1.5" fill="#000"/>
<circle cx="233.3" cy="385.5" r="1.5" fill="url(#rg)"/>
<circle cx="183.6" cy="282.0" r="1.5" fill="#000"/>
<circle cx="183.1" cy="273.3" r="1.5" fill="#000"/>
<circle cx="180.0" cy="221.8" r="1.5" fill="url(#gg)"/>
<circle cx="170.1" cy="326.7" r="1.5" fill="url(#rg)"/>
<circle cx="214.0" cy="292.8" r="1.5" fill="#000"/>
<circle cx="183.7" cy="285.8" r="1.5" fill="#000"/>
<circle cx="184.6" cy="279.0" r="1.5" fill="#000"/>
<circle cx="193.7" cy="305.3" r="1.5" fill="url(#rg)"/>
<circle cx="230.3" cy="368.4" r="1.5" fill="url(#rg)"/>
<circle cx="217.7" cy="326.5" r="1.5" fill="url(#rg)"/>
<circle cx="187.8" cy="343.0" r="1.5" fill="url(#rg)"/>
<circle cx="191.7" cy="402.6" r="1.5" fill="url(#rg)"/>
<circle cx="196.2" cy="267.1" r="1.5" fill="#000"/>
<circle cx="226.0" cy="276.7" r="1.5" fill="#000"/>
<circle cx="222.1" cy="279.9" r="1.5" fill="#000"/>
<circle cx="219.2" cy="319.4" r="1.5" fill="url(#rg)"/>
<circle cx="204.1" cy="290.4" r="1.5" fill="#000"/>
<circle cx="210.1" cy="310.6" r="1.5" fill="url(#rg)"/>
<circle cx="229.5" cy="233.9" r="1.5" fill="url(#gg)"/>
<circle cx="228.2" cy="282.2" r="1.5" fill="#000"/>
<circle cx="198.4" cy="270.0" r="1.5" fill="#000"/>
<circle cx="229.6" cy="293.2" r="1.5" fill="#000"/>
<circle cx="227.6" cy="271.3" r="1.5" fill="#000"/>
<circle cx="172.7" cy="282.5" r="1.5" fill="#000"/>
<circle cx="171.0" cy="299.0" r="1.5" fill="url(#rg)"/>
<circle cx="183.0" cy="349.9" r="1.5" fill="url(#rg)"/>
<circle cx="193.7" cy="362.6" r="1.5" fill="url(#rg)"/>
<circle cx="233.4" cy="259.4" r="1.5" fill="url(#gg)"/>
<circle cx="197.4" cy="281.7" r="1.5" fill="#000"/>
<circle cx="227.8" cy="307.3" r="1.5" fill="url(#rg)"/>
<circle cx="222.6" cy="293.8" r="1.5" fill="#000"/>
<circle cx="199.3" cy="291.8" r="1.5" fill="#000"/>
<circle cx="184.0" cy="327.0" r="1.5" fill="url(#rg)"/>
<circle cx="231.6" cy="290.9" r="1.5" fill="#000"/>
<circle cx="192.3" cy="260.7" r="1.5" fill="url(#gg)"/>
<circle cx="188.0" cy="250.8" r="1.5" fill="url(#gg)"/>
<circle cx="176.3" cy="274.7" r="1.5" fill="#000"/>
<circle cx="178.6" cy="233.3" r="1.5" fill="url(#gg)"/>
<circle cx="216.3" cy="299.2" r="1.5" fill="url(#rg)"/>
<circle cx="180.6" cy="247.3" r="1.5" fill="url(#gg)"/>
<circle cx="187.1" cy="289.1" r="1.5" fill="#000"/>
<circle cx="203.9" cy="316.0" r="1.5" fill="url(#rg)"/>
<circle cx="223.0" cy="268.2" r="1.5" fill="#000"/>
<circle cx="230.1" cy="382.9" r="1.5" fill="url(#rg)"/>
<circle cx="185.9" cy="262.8" r="1.5" fill="url(#gg)"/>
<circle cx="223.0" cy="247.6" r="1.5" fill="url(#gg)"/>
<circle cx="178.0" cy="224.7" r="1.5" fill="url(#gg)"/>
<circle cx="215.2" cy="354.6" r="1.5" fill="url(#rg)"/>
<circle cx="182.2" cy="265.4" r="1.5" fill="#000"/>
<circle cx="177.8" cy="279.3" r="1.5" fill="#000"/>
<circle cx="184.4" cy="322.8" r="1.5" fill="url(#rg)"/>
<circle cx="168.8" cy="274.2" r="1.5" fill="#000"/>
<circle cx="213.0" cy="290.6" r="1.5" fill="#000"/>
<circle cx="202.9" cy="262.5" r="1.5" fill="url(#gg)"/>
<circle cx="196.2" cy="278.9" r="1.5" fill="#000"/>
<circle cx="199.0" cy="288.1" r="1.5" fill="#000"/>
<circle cx="180.1" cy="376.3" r="1.5" fill="url(#rg)"/>
<circle cx="182.3" cy="233.3" r="1.5" fill="url(#gg)"/>
<circle cx="189.6" cy="371.5" r="1.5" fill="url(#rg)"/>
<circle cx="180.8" cy="344.5" r="1.5" fill="url(#rg)"/>
<circle cx="169.1" cy="294.0" r="1.5" fill="#000"/>
<circle cx="212.9" cy="261.1" r="1.5" fill="url(#gg)"/>
<circle cx="168.5" cy="341.3" r="1.5" fill="url(#rg)"/>
<circle cx="178.4" cy="296.7" r="1.5" fill="url(#rg)"/>
<circle cx="221.6" cy="282.6" r="1.5" fill="#000"/>
<circle cx="221.5" cy="258.2" r="1.5" fill="url(#gg)"/>
<circle cx="196.9" cy="278.5" r="1.5" fill="#000"/>
<circle cx="170.5" cy="422.3" r="1.5" fill="url(#rg)"/>
<circle cx="217.2" cy="253.4" r="1.5" fill="url(#gg)"/>
<circle cx="181.7" cy="268.7" r="1.5" fill="#000"/>
<circle cx="204.0" cy="335.7" r="1.5" fill="url(#rg)"/>
<circle cx="198.3" cy="285.0" r="1.5" fill="#000"/>
<circle cx="198.0" cy="280.1" r="1.5" fill="#000"/>
<circle cx="171.1" cy="309.7" r="1.5" fill="url(#rg)"/>
<circle cx="229.3" cy="364.1" r="1.5" fill="url(#rg)"/>
<circle cx="179.1" cy="281.1" r="1.5" fill="#000"/>
<circle cx="228.1" cy="261.7" r="1.5" fill="url(#gg)"/>
<circle cx="184.8" cy="298.0" r="1.5" fill="url(#rg)"/>
<circle cx="215.4" cy="267.6" r="1.5" fill="#000"/>
<circle cx="233.2" cy="315.0" r="1.5" fill="url(#rg)"/>
<circle cx="170.6" cy="277.5" r="1.5" fill="#000"/>
<circle cx="194.9" cy="310.5" r="1.5" fill="url(#rg)"/>
<circle cx="209.0" cy="270.9" r="1.5" fill="#000"/>
<circle cx="192.7" cy="382.9" r="1.5" fill="url(#rg)"/>
<circle cx="200.8" cy="271.0" r="1.5" fill="#000"/>
<circle cx="193.8" cy="266.0" r="1.5" fill="#000"/>
<circle cx="193.4" cy="286.3" r="1.5" fill="#000"/>
<circle cx="216.3" cy="349.0" r="1.5" fill="url(#rg)"/>
<circle cx="227.2" cy="272.9" r="1.5" fill="#000"/>
<circle cx="220.1" cy="261.7" r="1.5" fill="url(#gg)"/>
<circle cx="182.5" cy="333.0" r="1.5" fill="url(#rg)"/>
<circle cx="196.7" cy="269.1" r="1.5" fill="#000"/>
<circle cx="176.0" cy="394.2" r="1.5" fill="url(#rg)"/>
<circle cx="222.7" cy="284.9" r="1.5" fill="#000"/>
<circle cx="214.4" cy="294.6" r="1.5" fill="url(#rg)"/>
<circle cx="174.7" cy="283.6" r="1.5" fill="#000"/>
<circle cx="212.1" cy="337.3" r="1.5" fill="url(#rg)"/>
<circle cx="176.4" cy="289.8" r="1.5" fill="#000"/>
<circle cx="187.9" cy="279.3" r="1.5" fill="#000"/>
<circle cx="219.3" cy="277.9" r="1.5" fill="#000"/>
<circle cx="212.2" cy="266.8" r="1.5" fill="#000"/>
<circle cx="213.0" cy="286.1" r="1.5" fill="#000"/>
<circle cx="201.0" cy="287.6" r="1.5" fill="#000"/>
<circle cx="223.5" cy="316.4" r="1.5" fill="url(#rg)"/>
<circle cx="172.1" cy="269.5" r="1.5" fill="#000"/>
<circle cx="211.8" cy="281.6" r="1.5" fill="#000"/>
<circle cx="231.6" cy="264.1" r="1.5" fill="#000"/>
<circle cx="168.2" cy="282.0" r="1.5" fill="#000"/>
<circle cx="211.2" cy="285.4" r="1.5" fill="#000"/>
<circle cx="185.6" cy="279.0" r="1.5" fill="#000"/>
<circle cx="194.9" cy="239.9" r="1.5" fill="url(#gg)"/>
<circle cx="219.0" cy="282.2" r="1.5" fill="#000"/>
<circle cx="222.5" cy="272.6" r="1.5" fill="#000"/>
<circle cx="224.0" cy="312.7" r="1.5" fill="url(#rg)"/>
<circle cx="168.6" cy="286.3" r="1.5" fill="#000"/>
<circle cx="171.6" cy="283.2" r="1.5" fill="#000"/>
<circle cx="226.1" cy="305.7" r="1.5" fill="url(#rg)"/>
<circle cx="224.0" cy="280.5" r="1.5" fill="#000"/>
<circle cx="184.7" cy="334.2" r="1.5" fill="url(#rg)"/>
<circle cx="174.3" cy="258.2" r="1.5" fill="url(#gg)"/>
<circle cx="171.9" cy="397.2" r="1.5" fill="url(#rg)"/>
<circle cx="186.3" cy="251.9" r="1.5" fill="url(#gg)"/>
<circle cx="188.6" cy="158.0" r="1.5" fill="url(#gg)"/>
<circle cx="232.1" cy="251.1" r="1.5" fill="url(#gg)"/>
<circle cx="229.2" cy="299.0" r="1.5" fill="url(#rg)"/>
<circle cx="185.3" cy="289.6" r="1.5" fill="#000"/>
<circle cx="225.8" cy="240.2" r="1.5" fill="url(#gg)"/>
<circle cx="169.0" cy="280.3" r="1.5" fill="#000"/>
<circle cx="223.5" cy="164.6" r="1.5" fill="url(#gg)"/>
<circle cx="212.6" cy="338.2" r="1.5" fill="url(#rg)"/>
<circle cx="177.1" cy="284.2" r="1.5" fill="#000"/>
<circle cx="195.4" cy="331.0" r="1.5" fill="url(#rg)"/>
<circle cx="191.5" cy="260.4" r="1.5" fill="url(#gg)"/>
<circle cx="221.6" cy="274.1" r="1.5" fill="#000"/>
<circle cx="189.4" cy="393.3" r="1.5" fill="url(#rg)"/>
<circle cx="215.9" cy="281.0" r="1.5" fill="#000"/>
<circle cx="190.4" cy="303.2" r="1.5" fill="url(#rg)"/>
<circle cx="167.8" cy="306.1" r="1.5" fill="url(#rg)"/>
<circle cx="174.5" cy="257.9" r="1.5" fill="url(#gg)"/>
<circle cx="214.8" cy="277.2" r="1.5" fill="#000"/>
<circle cx="185.1" cy="280.4" r="1.5" fill="#000"/>
<circle cx="184.9" cy="264.6" r="1.5" fill="#000"/>
<circle cx="172.2" cy="285.1" r="1.5" fill="#000"/>
<circle cx="204.7" cy="280.2" r="1.5" fill="#000"/>
<circle cx="199.8" cy="272.1" r="1.5" fill="#000"/>
<circle cx="180.3" cy="304.2" r="1.5" fill="url(#rg)"/>
<circle cx="171.1" cy="277.0" r="1.5" fill="#000"/>
<circle cx="188.6" cy="276.6" r="1.5" fill="#000"/>
<circle cx="176.1" cy="316.8" r="1.5" fill="url(#rg)"/>
<circle cx="210.5" cy="279.5" r="1.5" fill="#000"/>
<circle cx="169.9" cy="386.1" r="1.5" fill="url(#rg)"/>
<circle cx="205.8" cy="262.2" r="1.5" fill="url(#gg)"/>
<circle cx="212.7" cy="293.8" r="1.5" fill="#000"/>
<circle cx="178.4" cy="281.5" r="1.5" fill="#000"/>
<circle cx="180.9" cy="254.5" r="1.5" fill="url(#gg)"/>
<circle cx="223.1" cy="279.7" r="1.5" fill="#000"/>
<circle cx="218.0" cy="343.1" r="1.5" fill="url(#rg)"/>
<circle cx="197.5" cy="283.1" r="1.5" fill="#000"/>
<circle cx="198.9" cy="358.8" r="1.5" fill="url(#rg)"/>
<circle cx="182.3" cy="303.8" r="1.5" fill="url(#rg)"/>
<circle cx="200.1" cy="281.0" r="1.5" fill="#000"/>
<circle cx="217.1" cy="281.6" r="1.5" fill="#000"/>
<circle cx="170.7" cy="268.7" r="1.5" fill="#000"/>
<circle cx="190.1" cy="274.6" r="1.5" fill="#000"/>
<circle cx="185.5" cy="271.0" r="1.5" fill="#000"/>
<circle cx="227.5" cy="269.0" r="1.5" fill="#000"/>
<circle cx="201.1" cy="276.7" r="1.5" fill="#000"/>
<circle cx="198.9" cy="314.7" r="1.5" fill="url(#rg)"/>
<circle cx="227.7" cy="274.6" r="1.5" fill="#000"/>
<circle cx="169.3" cy="314.0" r="1.5" fill="url(#rg)"/>
<circle cx="221.1" cy="314.4" r="1.5" fill="url(#rg)"/>
<circle cx="176.6" cy="288.8" r="1.5" fill="#000"/>
<circle cx="229.8" cy="249.6" r="1.5" fill="url(#gg)"/>
<circle cx="173.8" cy="297.1" r="1.5" fill="url(#rg)"/>
<circle cx="202.2" cy="301.8" r="1.5" fill="url(#rg)"/>
<circle cx="232.8" cy="284.9" r="1.5" fill="#000"/>
<circle cx="210.1" cy="272.2" r="1.5" fill="#000"/>
<circle cx="227.2" cy="277.2" r="1.5" fill="#000"/>
<circle cx="219.3" cy="271.0" r="1.5" fill="#000"/>
<circle cx="226.9" cy="277.9" r="1.5" fill="#000"/>
<circle cx="232.0" cy="267.3" r="1.5" fill="#000"/>
<circle cx="212.7" cy="281.5" r="1.5" fill="#000"/>
<circle cx="199.7" cy="279.3" r="1.5" fill="#000"/>
<circle cx="200.8" cy="281.5" r="1.5" fill="#000"/>
<circle cx="176.4" cy="282.5" r="1.5" fill="#000"/>
<circle cx="220.7" cy="166.6" r="1.5" fill="url(#gg)"/>
<circle cx="231.9" cy="288.7" r="1.5" fill="#000"/>
<circle cx="177.7" cy="241.0" r="1.5" fill="url(#gg)"/>
<circle cx="210.1" cy="188.9" r="1.5" fill="url(#gg)"/>
<circle cx="196.2" cy="389.0" r="1.5" fill="url(#rg)"/>
<circle cx="204.3" cy="287.5" r="1.5" fill="#000"/>
<circle cx="216.5" cy="279.2" r="1.5" fill="#000"/>
<circle cx="212.5" cy="291.8" r="1.5" fill="#000"/>
<circle cx="204.4" cy="279.2" r="1.5" fill="#000"/>
<circle cx="282.4" cy="298.6" r="1.5" fill="url(#rg)"/>
<circle cx="262.6" cy="278.9" r="1.5" fill="#000"/>
<circle cx="264.7" cy="274.3" r="1.5" fill="#000"/>
<circle cx="311.4" cy="283.7" r="1.5" fill="#000"/>
<circle cx="273.8" cy="203.8" r="1.5" fill="url(#gg)"/>
<circle cx="282.1" cy="267.7" r="1.5" fill="#000"/>
<circle cx="271.5" cy="249.6" r="1.5" fill="url(#gg)"/>
<circle cx="270.8" cy="278.0" r="1.5" fill="#000"/>
<circle cx="290.1" cy="245.3" r="1.5" fill="url(#gg)"/>
<circle cx="256.6" cy="304.3" r="1.5" fill="url(#rg)"/>
<circle cx="295.8" cy="262.5" r="1.5" fill="url(#gg)"/>
<circle cx="286.0" cy="277.0" r="1.5" fill="#000"/>
<circle cx="291.3" cy="287.3" r="1.5" fill="#000"/>
<circle cx="291.3" cy="276.0" r="1.5" fill="#000"/>
<circle cx="257.4" cy="280.2" r="1.5" fill="#000"/>
<circle cx="315.0" cy="257.4" r="1.5" fill="url(#gg)"/>
<circle cx="254.2" cy="264.9" r="1.5" fill="#000"/>
<circle cx="263.8" cy="287.6" r="1.5" fill="#000"/>
<circle cx="299.6" cy="274.2" r="1.5" fill="#000"/>
<circle cx="301.6" cy="279.4" r="1.5" fill="#000"/>
<circle cx="296.7" cy="304.3" r="1.5" fill="url(#rg)"/>
<circle cx="289.2" cy="247.3" r="1.5" fill="url(#gg)"/>
<circle cx="310.1" cy="297.8" r="1.5" fill="url(#rg)"/>
<circle cx="283.5" cy="283.6" r="1.5" fill="#000"/>
<circle cx="307.7" cy="277.4" r="1.5" fill="#000"/>
<circle cx="311.0" cy="231.0" r="1.5" fill="url(#gg)"/>
<circle cx="291.8" cy="272.6" r="1.5" fill="#000"/>
<circle cx="268.5" cy="278.5" r="1.5" fill="#000"/>
<circle cx="270.9" cy="264.6" r="1.5" fill="#000"/>
<circle cx="276.3" cy="267.4" r="1.5" fill="#000"/>
<circle cx="303.7" cy="274.9" r="1.5" fill="#000"/>
<circle cx="275.8" cy="265.7" r="1.5" fill="#000"/>
<circle cx="294.5" cy="272.8" r="1.5" fill="#000"/>
<circle cx="311.3" cy="275.2" r="1.5" fill="#000"/>
<circle cx="257.1" cy="264.9" r="1.5" fill="#000"/>
<circle cx="311.6" cy="278.4" r="1.5" fill="#000"/>
<circle cx="310.0" cy="276.1" r="1.5" fill="#000"/>
<circle cx="278.6" cy="294.9" r="1.5" fill="url(#rg)"/>
<circle cx="302.2" cy="277.7" r="1.5" fill="#000"/>
<circle cx="308.7" cy="266.2" r="1.5" fill="#000"/>
<circle cx="306.2" cy="270.5" r="1.5" fill="#000"/>
<circle cx="310.9" cy="273.4" r="1.5" fill="#000"/>
<circle cx="307.8" cy="228.2" r="1.5" fill="url(#gg)"/>
<circle cx="307.2" cy="279.4" r="1.5" fill="#000"/>
<circle cx="268.7" cy="288.5" r="1.5" fill="#000"/>
<circle cx="255.5" cy="290.7" r="1.5" fill="#000"/>
<circle cx="262.3" cy="237.6" r="1.5" fill="url(#gg)"/>
<circle cx="271.9" cy="273.6" r="1.5" fill="#000"/>
<circle cx="314.1" cy="277.1" r="1.5" fill="#000"/>
<circle cx="266.5" cy="279.7" r="1.5" fill="#000"/>
<circle cx="299.5" cy="217.6" r="1.5" fill="url(#gg)"/>
<circle cx="278.5" cy="278.2" r="1.5" fill="#000"/>
<circle cx="259.7" cy="276.7" r="1.5" fill="#000"/>
<circle cx="295.3" cy="275.7" r="1.5" fill="#000"/>
<circle cx="308.7" cy="282.9" r="1.5" fill="#000"/>
<circle cx="278.5" cy="269.0" r="1.5" fill="#000"/>
<circle cx="314.3" cy="292.0" r="1.5" fill="#000"/>
<circle cx="307.8" cy="287.3" r="1.5" fill="#000"/>
<circle cx="273.2" cy="274.6" r="1.5" fill="#000"/>
<circle cx="303.7" cy="281.3" r="1.5" fill="#000"/>
<circle cx="273.8" cy="135.1" r="1.5" fill="url(#gg)"/>
<circle cx="256.2" cy="277.0" r="1.5" fill="#000"/>
<circle cx="260.3" cy="285.3" r="1.5" fill="#000"/>
<circle cx="253.7" cy="255.4" r="1.5" fill="url(#gg)"/>
<circle cx="311.9" cy="271.2" r="1.5" fill="#000"/>
<circle cx="315.3" cy="278.5" r="1.5" fill="#000"/>
<circle cx="263.6" cy="277.4" r="1.5" fill="#000"/>
<circle cx="308.3" cy="278.0" r="1.5" fill="#000"/>
<circle cx="289.2" cy="255.9" r="1.5" fill="url(#gg)"/>
<circle cx="283.0" cy="279.9" r="1.5" fill="#000"/>
<circle cx="270.1" cy="253.9" r="1.5" fill="url(#gg)"/>
<circle cx="272.5" cy="276.5" r="1.5" fill="#000"/>
<circle cx="295.8" cy="236.7" r="1.5" fill="url(#gg)"/>
<circle cx="276.2" cy="288.3" r="1.5" fill="#000"/>
<circle cx="264.1" cy="266.8" r="1.5" fill="#000"/>
<circle cx="302.2" cy="276.9" r="1.5" fill="#000"/>
<circle cx="270.2" cy="288.8" r="1.5" fill="#000"/>
<circle cx="265.5" cy="285.3" r="1.5" fill="#000"/>
<circle cx="300.6" cy="275.6" r="1.5" fill="#000"/>
<circle cx="273.5" cy="288.5" r="1.5" fill="#000"/>
<circle cx="274.3" cy="223.3" r="1.5" fill="url(#gg)"/>
<circle cx="266.7" cy="269.4" r="1.5" fill="#000"/>
<circle cx="304.5" cy="268.5" r="1.5" fill="#000"/>
<circle cx="259.3" cy="279.5" r="1.5" fill="#000"/>
<circle cx="299.9" cy="271.7" r="1.5" fill="#000"/>
<circle cx="252.1" cy="277.4" r="1.5" fill="#000"/>
<circle cx="273.3" cy="277.1" r="1.5" fill="#000"/>
<circle cx="251.3" cy="280.8" r="1.5" fill="#000"/>
<circle cx="289.8" cy="273.8" r="1.5" fill="#000"/>
<circle cx="252.3" cy="267.6" r="1.5" fill="#000"/>
<circle cx="303.5" cy="283.7" r="1.5" fill="#000"/>
<circle cx="256.7" cy="280.8" r="1.5" fill="#000"/>
<circle cx="270.1" cy="278.9" r="1.5" fill="#000"/>
<circle cx="263.4" cy="273.6" r="1.5" fill="#000"/>
<circle cx="292.0" cy="283.5" r="1.5" fill="#000"/>
<circle cx="263.3" cy="275.0" r="1.5" fill="#000"/>
<circle cx="303.2" cy="273.8" r="1.5" fill="#000"/>
<circle cx="265.2" cy="247.3" r="1.5" fill="url(#gg)"/>
<circle cx="252.6" cy="276.0" r="1.5" fill="#000"/>
<circle cx="274.8" cy="257.6" r="1.5" fill="url(#gg)"/>
<circle cx="303.7" cy="277.3" r="1.5" fill="#000"/>
<circle cx="252.8" cy="277.0" r="1.5" fill="#000"/>
<circle cx="313.8" cy="296.6" r="1.5" fill="url(#rg)"/>
<circle cx="254.2" cy="286.5" r="1.5" fill="#000"/>
<circle cx="313.2" cy="278.1" r="1.5" fill="#000"/>
<circle cx="301.6" cy="266.9" r="1.5" fill="#000"/>
<circle cx="274.9" cy="256.5" r="1.5" fill="url(#gg)"/>
<circle cx="272.7" cy="273.4" r="1.5" fill="#000"/>
<circle cx="288.3" cy="292.2" r="1.5" fill="#000"/>
<circle cx="288.1" cy="304.3" r="1.5" fill="url(#rg)"/>
<circle cx="300.9" cy="264.5" r="1.5" fill="#000"/>
<circle cx="282.6" cy="274.4" r="1.5" fill="#000"/>
<circle cx="298.2" cy="285.6" r="1.5" fill="#000"/>
<circle cx="254.3" cy="235.9" r="1.5" fill="url(#gg)"/>
<circle cx="262.3" cy="358.8" r="1.5" fill="url(#rg)"/>
<circle cx="301.4" cy="273.3" r="1.5" fill="#000"/>
<circle cx="274.7" cy="277.4" r="1.5" fill="#000"/>
<circle cx="284.8" cy="258.4" r="1.5" fill="url(#gg)"/>
<circle cx="260.6" cy="231.0" r="1.5" fill="url(#gg)"/>
<circle cx="271.4" cy="284.4" r="1.5" fill="#000"/>
<circle cx="305.3" cy="277.4" r="1.5" fill="#000"/>
<circle cx="261.5" cy="266.5" r="1.5" fill="#000"/>
<circle cx="309.7" cy="279.5" r="1.5" fill="#000"/>
<circle cx="253.7" cy="278.8" r="1.5" fill="#000"/>
<circle cx="257.2" cy="278.5" r="1.5" fill="#000"/>
<circle cx="274.0" cy="279.8" r="1.5" fill="#000"/>
<circle cx="311.4" cy="282.6" r="1.5" fill="#000"/>
<circle cx="306.1" cy="273.0" r="1.5" fill="#000"/>
<circle cx="300.7" cy="328.1" r="1.5" fill="url(#rg)"/>
<circle cx="309.0" cy="260.0" r="1.5" fill="url(#gg)"/>
<circle cx="309.9" cy="279.1" r="1.5" fill="#000"/>
<circle cx="298.0" cy="284.2" r="1.5" fill="#000"/>
<circle cx="296.6" cy="289.7" r="1.5" fill="#000"/>
<circle cx="267.2" cy="271.7" r="1.5" fill="#000"/>
<circle cx="278.9" cy="286.0" r="1.5" fill="#000"/>
<circle cx="265.2" cy="235.9" r="1.5" fill="url(#gg)"/>
<circle cx="305.4" cy="277.2" r="1.5" fill="#000"/>
<circle cx="305.8" cy="267.8" r="1.5" fill="#000"/>
<circle cx="250.9" cy="273.7" r="1.5" fill="#000"/>
<circle cx="308.1" cy="256.8" r="1.5" fill="url(#gg)"/>
<circle cx="292.8" cy="273.2" r="1.5" fill="#000"/>
<circle cx="251.3" cy="272.9" r="1.5" fill="#000"/>
<circle cx="306.8" cy="274.9" r="1.5" fill="#000"/>
<circle cx="272.9" cy="276.3" r="1.5" fill="#000"/>
<circle cx="287.2" cy="233.9" r="1.5" fill="url(#gg)"/>
<circle cx="263.3" cy="266.6" r="1.5" fill="#000"/>
<circle cx="287.8" cy="279.5" r="1.5" fill="#000"/>
<circle cx="279.6" cy="290.2" r="1.5" fill="#000"/>
<circle cx="267.2" cy="287.5" r="1.5" fill="#000"/>
<circle cx="277.2" cy="363.1" r="1.5" fill="url(#rg)"/>
<circle cx="305.8" cy="262.5" r="1.5" fill="url(#gg)"/>
<circle cx="288.5" cy="275.5" r="1.5" fill="#000"/>
<circle cx="268.0" cy="331.6" r="1.5" fill="url(#rg)"/>
<circle cx="270.1" cy="322.4" r="1.5" fill="url(#rg)"/>
<circle cx="250.9" cy="331.6" r="1.5" fill="url(#rg)"/>
<circle cx="301.3" cy="274.8" r="1.5" fill="#000"/>
<circle cx="305.8" cy="249.6" r="1.5" fill="url(#gg)"/>
<circle cx="260.0" cy="317.2" r="1.5" fill="url(#rg)"/>
<circle cx="298.7" cy="277.6" r="1.5" fill="#000"/>
<circle cx="252.4" cy="272.5" r="1.5" fill="#000"/>
<circle cx="286.8" cy="265.5" r="1.5" fill="#000"/>
<circle cx="295.6" cy="279.7" r="1.5" fill="#000"/>
<circle cx="261.3" cy="286.6" r="1.5" fill="#000"/>
<circle cx="300.1" cy="297.8" r="1.5" fill="url(#rg)"/>
<circle cx="278.6" cy="287.8" r="1.5" fill="#000"/>
<circle cx="293.4" cy="295.1" r="1.5" fill="#000"/>
<circle cx="283.2" cy="273.0" r="1.5" fill="#000"/>
<circle cx="254.9" cy="333.0" r="1.5" fill="url(#rg)"/>
<circle cx="298.8" cy="278.1" r="1.5" fill="#000"/>
<circle cx="290.5" cy="279.3" r="1.5" fill="#000"/>
<circle cx="261.1" cy="279.9" r="1.5" fill="#000"/>
<circle cx="258.7" cy="283.8" r="1.5" fill="#000"/>
<circle cx="314.1" cy="281.4" r="1.5" fill="#000"/>
<circle cx="257.7" cy="241.9" r="1.5" fill="url(#gg)"/>
<circle cx="282.4" cy="301.5" r="1.5" fill="url(#rg)"/>
<circle cx="285.2" cy="284.4" r="1.5" fill="#000"/>
<circle cx="256.9" cy="269.6" r="1.5" fill="#000"/>
<circle cx="308.2" cy="266.7" r="1.5" fill="#000"/>
<circle cx="280.7" cy="288.4" r="1.5" fill="#000"/>
<circle cx="305.3" cy="240.5" r="1.5" fill="url(#gg)"/>
<circle cx="259.4" cy="279.5" r="1.5" fill="#000"/>
<circle cx="311.0" cy="269.9" r="1.5" fill="#000"/>
<circle cx="265.2" cy="260.2" r="1.5" fill="url(#gg)"/>
<circle cx="265.8" cy="257.4" r="1.5" fill="url(#gg)"/>
<circle cx="333.3" cy="286.4" r="1.5" fill="#000"/>
<circle cx="334.2" cy="278.0" r="1.5" fill="#000"/>
<circle cx="380.8" cy="269.9" r="1.5" fill="#000"/>
<circle cx="338.6" cy="305.2" r="1.5" fill="url(#rg)"/>
<circle cx="360.6" cy="323.0" r="1.5" fill="url(#rg)"/>
<circle cx="389.3" cy="343.6" r="1.5" fill="url(#rg)"/>
<circle cx="384.4" cy="291.6" r="1.5" fill="#000"/>
<circle cx="396.7" cy="281.3" r="1.5" fill="#000"/>
<circle cx="364.8" cy="281.5" r="1.5" fill="#000"/>
<circle cx="382.7" cy="284.3" r="1.5" fill="#000"/>
<circle cx="362.5" cy="292.2" r="1.5" fill="#000"/>
<circle cx="392.1" cy="230.4" r="1.5" fill="url(#gg)"/>
<circle cx="365.5" cy="312.1" r="1.5" fill="url(#rg)"/>
<circle cx="375.1" cy="288.9" r="1.5" fill="#000"/>
<circle cx="354.3" cy="270.5" r="1.5" fill="#000"/>
<circle cx="345.7" cy="271.6" r="1.5" fill="#000"/>
<circle cx="383.4" cy="286.6" r="1.5" fill="#000"/>
<circle cx="345.3" cy="275.9" r="1.5" fill="#000"/>
<circle cx="362.9" cy="287.0" r="1.5" fill="#000"/>
<circle cx="380.3" cy="279.0" r="1.5" fill="#000"/>
<circle cx="395.8" cy="310.9" r="1.5" fill="url(#rg)"/>
<circle cx="350.6" cy="301.5" r="1.5" fill="url(#rg)"/>
<circle cx="373.5" cy="259.7" r="1.5" fill="url(#gg)"/>
<circle cx="352.1" cy="260.5" r="1.5" fill="url(#gg)"/>
<circle cx="334.0" cy="255.9" r="1.5" fill="url(#gg)"/>
<circle cx="378.5" cy="285.6" r="1.5" fill="#000"/>
<circle cx="370.1" cy="200.9" r="1.5" fill="url(#gg)"/>
<circle cx="348.1" cy="269.8" r="1.5" fill="#000"/>
<circle cx="394.5" cy="262.1" r="1.5" fill="url(#gg)"/>
<circle cx="394.8" cy="286.7" r="1.5" fill="#000"/>
<circle cx="339.7" cy="284.1" r="1.5" fill="#000"/>
<circle cx="397.5" cy="281.5" r="1.5" fill="#000"/>
<circle cx="367.8" cy="257.7" r="1.5" fill="url(#gg)"/>
<circle cx="369.9" cy="278.5" r="1.5" fill="#000"/>
<circle cx="336.3" cy="275.0" r="1.5" fill="#000"/>
<circle cx="364.6" cy="286.9" r="1.5" fill="#000"/>
<circle cx="396.4" cy="267.3" r="1.5" fill="#000"/>
<circle cx="334.0" cy="279.2" r="1.5" fill="#000"/>
<circle cx="364.2" cy="288.1" r="1.5" fill="#000"/>
<circle cx="344.3" cy="262.5" r="1.5" fill="url(#gg)"/>
<circle cx="356.3" cy="343.0" r="1.5" fill="url(#rg)"/>
<circle cx="373.5" cy="200.9" r="1.5" fill="url(#gg)"/>
<circle cx="381.0" cy="274.0" r="1.5" fill="#000"/>
<circle cx="372.5" cy="271.3" r="1.5" fill="#000"/>
<circle cx="378.7" cy="277.4" r="1.5" fill="#000"/>
<circle cx="356.3" cy="235.3" r="1.5" fill="url(#gg)"/>
<circle cx="357.8" cy="241.9" r="1.5" fill="url(#gg)"/>
<circle cx="397.1" cy="287.2" r="1.5" fill="#000"/>
<circle cx="393.0" cy="253.1" r="1.5" fill="url(#gg)"/>
<circle cx="372.1" cy="241.0" r="1.5" fill="url(#gg)"/>
<circle cx="337.7" cy="294.9" r="1.5" fill="url(#rg)"/>
<circle cx="395.4" cy="262.4" r="1.5" fill="url(#gg)"/>
<circle cx="389.8" cy="348.2" r="1.5" fill="url(#rg)"/>
<circle cx="353.8" cy="288.6" r="1.5" fill="#000"/>
<circle cx="366.8" cy="292.0" r="1.5" fill="#000"/>
<circle cx="372.1" cy="206.7" r="1.5" fill="url(#gg)"/>
<circle cx="338.6" cy="330.1" r="1.5" fill="url(#rg)"/>
<circle cx="384.6" cy="260.1" r="1.5" fill="url(#gg)"/>
<circle cx="361.5" cy="283.8" r="1.5" fill="#000"/>
<circle cx="352.1" cy="231.0" r="1.5" fill="url(#gg)"/>
<circle cx="337.1" cy="288.4" r="1.5" fill="#000"/>
<circle cx="358.1" cy="282.6" r="1.5" fill="#000"/>
<circle cx="377.1" cy="280.1" r="1.5" fill="#000"/>
<circle cx="396.5" cy="273.2" r="1.5" fill="#000"/>
<circle cx="339.9" cy="277.7" r="1.5" fill="#000"/>
<circle cx="379.7" cy="287.0" r="1.5" fill="#000"/>
<circle cx="349.2" cy="218.1" r="1.5" fill="url(#gg)"/>
<circle cx="358.1" cy="285.1" r="1.5" fill="#000"/>
<circle cx="373.7" cy="272.2" r="1.5" fill="#000"/>
<circle cx="362.7" cy="291.5" r="1.5" fill="#000"/>
<circle cx="390.8" cy="284.7" r="1.5" fill="#000"/>
<circle cx="384.1" cy="270.8" r="1.5" fill="#000"/>
<circle cx="337.4" cy="268.6" r="1.5" fill="#000"/>
<circle cx="342.7" cy="290.0" r="1.5" fill="#000"/>
<circle cx="363.7" cy="280.4" r="1.5" fill="#000"/>
<circle cx="341.5" cy="331.6" r="1.5" fill="url(#rg)"/>
<circle cx="380.7" cy="368.2" r="1.5" fill="url(#rg)"/>
<circle cx="368.0" cy="272.9" r="1.5" fill="#000"/>
<circle cx="372.1" cy="298.6" r="1.5" fill="url(#rg)"/>
<circle cx="380.7" cy="251.1" r="1.5" fill="url(#gg)"/>
<circle cx="374.9" cy="349.3" r="1.5" fill="url(#rg)"/>
<circle cx="342.0" cy="284.6" r="1.5" fill="#000"/>
<circle cx="340.3" cy="276.8" r="1.5" fill="#000"/>
<circle cx="346.3" cy="323.0" r="1.5" fill="url(#rg)"/>
<circle cx="383.4" cy="295.1" r="1.5" fill="#000"/>
<circle cx="359.4" cy="286.0" r="1.5" fill="#000"/>
<circle cx="371.9" cy="274.9" r="1.5" fill="#000"/>
<circle cx="386.7" cy="270.1" r="1.5" fill="#000"/>
<circle cx="382.1" cy="259.7" r="1.5" fill="url(#gg)"/>
<circle cx="333.4" cy="225.3" r="1.5" fill="url(#gg)"/>
<circle cx="389.3" cy="311.5" r="1.5" fill="url(#rg)"/>
<circle cx="362.1" cy="301.5" r="1.5" fill="url(#rg)"/>
<circle cx="359.2" cy="277.9" r="1.5" fill="#000"/>
<circle cx="342.6" cy="299.5" r="1.5" fill="url(#rg)"/>
<circle cx="375.9" cy="283.0" r="1.5" fill="#000"/>
<circle cx="367.0" cy="279.4" r="1.5" fill="#000"/>
<circle cx="332.0" cy="236.2" r="1.5" fill="url(#gg)"/>
<circle cx="352.9" cy="343.6" r="1.5" fill="url(#rg)"/>
<circle cx="351.4" cy="288.7" r="1.5" fill="#000"/>
<circle cx="371.9" cy="272.7" r="1.5" fill="#000"/>
<circle cx="337.9" cy="291.7" r="1.5" fill="#000"/>
<circle cx="377.8" cy="258.2" r="1.5" fill="url(#gg)"/>
<circle cx="363.1" cy="280.1" r="1.5" fill="#000"/>
<circle cx="369.6" cy="290.9" r="1.5" fill="#000"/>
<circle cx="374.4" cy="287.2" r="1.5" fill="#000"/>
<circle cx="385.0" cy="301.5" r="1.5" fill="url(#rg)"/>
<circle cx="394.2" cy="288.2" r="1.5" fill="#000"/>
<circle cx="363.7" cy="291.3" r="1.5" fill="#000"/>
<circle cx="367.6" cy="285.2" r="1.5" fill="#000"/>
<circle cx="352.1" cy="358.8" r="1.5" fill="url(#rg)"/>
<circle cx="350.6" cy="288.8" r="1.5" fill="#000"/>
<circle cx="387.0" cy="281.7" r="1.5" fill="#000"/>
<circle cx="384.8" cy="286.5" r="1.5" fill="#000"/>
<circle cx="368.5" cy="269.4" r="1.5" fill="#000"/>
<circle cx="381.6" cy="285.8" r="1.5" fill="#000"/>
<circle cx="357.5" cy="291.4" r="1.5" fill="#000"/>
<circle cx="393.0" cy="297.8" r="1.5" fill="url(#rg)"/>
<circle cx="363.8" cy="271.2" r="1.5" fill="#000"/>
<circle cx="386.4" cy="367.4" r="1.5" fill="url(#rg)"/>
<circle cx="340.3" cy="277.7" r="1.5" fill="#000"/>
<circle cx="383.0" cy="274.2" r="1.5" fill="#000"/>
<circle cx="356.3" cy="255.9" r="1.5" fill="url(#gg)"/>
<circle cx="386.5" cy="273.5" r="1.5" fill="#000"/>
<circle cx="386.4" cy="316.7" r="1.5" fill="url(#rg)"/>
<circle cx="352.2" cy="278.3" r="1.5" fill="#000"/>
<circle cx="368.5" cy="276.9" r="1.5" fill="#000"/>
<circle cx="344.9" cy="236.7" r="1.5" fill="url(#gg)"/>
<circle cx="350.9" cy="275.9" r="1.5" fill="#000"/>
<circle cx="348.3" cy="233.3" r="1.5" fill="url(#gg)"/>
<circle cx="335.9" cy="283.5" r="1.5" fill="#000"/>
<circle cx="337.5" cy="284.9" r="1.5" fill="#000"/>
<circle cx="373.5" cy="328.1" r="1.5" fill="url(#rg)"/>
<circle cx="391.3" cy="326.4" r="1.5" fill="url(#rg)"/>
<circle cx="335.4" cy="285.8" r="1.5" fill="#000"/>
<circle cx="351.2" cy="272.2" r="1.5" fill="#000"/>
<circle cx="395.8" cy="244.5" r="1.5" fill="url(#gg)"/>
<circle cx="361.6" cy="278.2" r="1.5" fill="#000"/>
<circle cx="362.8" cy="262.1" r="1.5" fill="url(#gg)"/>
<circle cx="373.1" cy="278.4" r="1.5" fill="#000"/>
<circle cx="347.2" cy="261.1" r="1.5" fill="url(#gg)"/>
<circle cx="373.5" cy="284.6" r="1.5" fill="#000"/>
<circle cx="353.0" cy="290.8" r="1.5" fill="#000"/>
<circle cx="342.5" cy="294.3" r="1.5" fill="#000"/>
<circle cx="393.0" cy="285.7" r="1.5" fill="#000"/>
<circle cx="353.0" cy="290.5" r="1.5" fill="#000"/>
<circle cx="355.6" cy="284.5" r="1.5" fill="#000"/>
<circle cx="362.6" cy="140.8" r="1.5" fill="url(#gg)"/>
<circle cx="377.2" cy="278.2" r="1.5" fill="#000"/>
<circle cx="376.2" cy="285.6" r="1.5" fill="#000"/>
<circle cx="358.5" cy="294.6" r="1.5" fill="#000"/>
<circle cx="385.4" cy="280.9" r="1.5" fill="#000"/>
<circle cx="389.0" cy="286.0" r="1.5" fill="#000"/>
<circle cx="372.1" cy="416.9" r="1.5" fill="url(#rg)"/>
<circle cx="397.3" cy="277.9" r="1.5" fill="#000"/>
<circle cx="370.1" cy="317.2" r="1.5" fill="url(#rg)"/>
<circle cx="390.4" cy="281.7" r="1.5" fill="#000"/>
<circle cx="377.5" cy="286.0" r="1.5" fill="#000"/>
<circle cx="385.9" cy="279.6" r="1.5" fill="#000"/>
<circle cx="352.1" cy="182.3" r="1.5" fill="url(#gg)"/>
<circle cx="383.5" cy="305.2" r="1.5" fill="url(#rg)"/>
<circle cx="391.9" cy="293.1" r="1.5" fill="#000"/>
<circle cx="374.9" cy="346.5" r="1.5" fill="url(#rg)"/>
<circle cx="351.4" cy="285.5" r="1.5" fill="#000"/>
<circle cx="381.8" cy="265.7" r="1.5" fill="#000"/>
<circle cx="357.8" cy="318.7" r="1.5" fill="url(#rg)"/>
<circle cx="339.2" cy="365.4" r="1.5" fill="url(#rg)"/>
<circle cx="397.0" cy="316.7" r="1.5" fill="url(#rg)"/>
<circle cx="368.4" cy="341.6" r="1.5" fill="url(#rg)"/>
<circle cx="380.7" cy="325.3" r="1.5" fill="url(#rg)"/>
<circle cx="369.0" cy="273.1" r="1.5" fill="#000"/>
<circle cx="375.5" cy="286.0" r="1.5" fill="#000"/>
<circle cx="332.8" cy="279.8" r="1.5" fill="#000"/>
<circle cx="375.2" cy="293.3" r="1.5" fill="#000"/>
<circle cx="383.5" cy="296.6" r="1.5" fill="url(#rg)"/>
<circle cx="334.5" cy="279.1" r="1.5" fill="#000"/>
<circle cx="383.5" cy="225.3" r="1.5" fill="url(#gg)"/>
<circle cx="437.2" cy="293.7" r="1.5" fill="#000"/>
<circle cx="435.8" cy="276.1" r="1.5" fill="#000"/>
<circle cx="435.3" cy="272.0" r="1.5" fill="#000"/>
<circle cx="466.7" cy="352.3" r="1.5" fill="url(#rg)"/>
<circle cx="433.7" cy="280.4" r="1.5" fill="#000"/>
<circle cx="474.7" cy="249.9" r="1.5" fill="url(#gg)"/>
<circle cx="471.2" cy="280.1" r="1.5" fill="#000"/>
<circle cx="436.0" cy="290.7" r="1.5" fill="#000"/>
<circle cx="440.1" cy="290.4" r="1.5" fill="#000"/>
<circle cx="479.0" cy="346.3" r="1.5" fill="url(#rg)"/>
<circle cx="421.2" cy="292.1" r="1.5" fill="#000"/>
<circle cx="418.4" cy="274.4" r="1.5" fill="#000"/>
<circle cx="466.3" cy="320.6" r="1.5" fill="url(#rg)"/>
<circle cx="431.9" cy="275.8" r="1.5" fill="#000"/>
<circle cx="447.0" cy="299.3" r="1.5" fill="url(#rg)"/>
<circle cx="479.5" cy="269.8" r="1.5" fill="#000"/>
<circle cx="450.1" cy="279.0" r="1.5" fill="#000"/>
<circle cx="476.9" cy="279.8" r="1.5" fill="#000"/>
<circle cx="439.8" cy="228.2" r="1.5" fill="url(#gg)"/>
<circle cx="415.6" cy="264.7" r="1.5" fill="#000"/>
<circle cx="424.0" cy="383.2" r="1.5" fill="url(#rg)"/>
<circle cx="479.5" cy="272.3" r="1.5" fill="#000"/>
<circle cx="447.4" cy="285.8" r="1.5" fill="#000"/>
<circle cx="420.7" cy="267.8" r="1.5" fill="#000"/>
<circle cx="453.5" cy="286.5" r="1.5" fill="#000"/>
<circle cx="471.7" cy="298.8" r="1.5" fill="url(#rg)"/>
<circle cx="465.8" cy="297.5" r="1.5" fill="url(#rg)"/>
<circle cx="429.0" cy="300.4" r="1.5" fill="url(#rg)"/>
<circle cx="460.3" cy="294.3" r="1.5" fill="#000"/>
<circle cx="468.7" cy="289.6" r="1.5" fill="#000"/>
<circle cx="415.6" cy="271.5" r="1.5" fill="#000"/>
<circle cx="463.3" cy="300.4" r="1.5" fill="url(#rg)"/>
<circle cx="429.7" cy="277.6" r="1.5" fill="#000"/>
<circle cx="471.2" cy="275.1" r="1.5" fill="#000"/>
<circle cx="479.2" cy="273.1" r="1.5" fill="#000"/>
<circle cx="456.5" cy="266.8" r="1.5" fill="#000"/>
<circle cx="456.0" cy="281.2" r="1.5" fill="#000"/>
<circle cx="433.3" cy="274.2" r="1.5" fill="#000"/>
<circle cx="453.1" cy="273.1" r="1.5" fill="#000"/>
<circle cx="442.8" cy="311.2" r="1.5" fill="url(#rg)"/>
<circle cx="421.7" cy="280.9" r="1.5" fill="#000"/>
<circle cx="420.1" cy="283.4" r="1.5" fill="#000"/>
<circle cx="455.5" cy="304.9" r="1.5" fill="url(#rg)"/>
<circle cx="463.9" cy="323.7" r="1.5" fill="url(#rg)"/>
<circle cx="415.0" cy="307.2" r="1.5" fill="url(#rg)"/>
<circle cx="472.1" cy="223.3" r="1.5" fill="url(#gg)"/>
<circle cx="442.1" cy="285.6" r="1.5" fill="#000"/>
<circle cx="438.9" cy="273.5" r="1.5" fill="#000"/>
<circle cx="459.4" cy="278.6" r="1.5" fill="#000"/>
<circle cx="447.3" cy="268.7" r="1.5" fill="#000"/>
<circle cx="441.7" cy="279.7" r="1.5" fill="#000"/>
<circle cx="428.4" cy="272.9" r="1.5" fill="#000"/>
<circle cx="469.0" cy="278.3" r="1.5" fill="#000"/>
<circle cx="449.8" cy="331.2" r="1.5" fill="url(#rg)"/>
<circle cx="440.0" cy="280.0" r="1.5" fill="#000"/>
<circle cx="418.8" cy="278.4" r="1.5" fill="#000"/>
<circle cx="456.9" cy="256.0" r="1.5" fill="url(#gg)"/>
<circle cx="468.2" cy="343.6" r="1.5" fill="url(#rg)"/>
<circle cx="455.4" cy="287.4" r="1.5" fill="#000"/>
<circle cx="417.2" cy="309.9" r="1.5" fill="url(#rg)"/>
<circle cx="423.4" cy="246.8" r="1.5" fill="url(#gg)"/>
<circle cx="431.5" cy="356.0" r="1.5" fill="url(#rg)"/>
<circle cx="441.6" cy="277.6" r="1.5" fill="#000"/>
<circle cx="422.2" cy="284.5" r="1.5" fill="#000"/>
<circle cx="440.3" cy="253.9" r="1.5" fill="url(#gg)"/>
<circle cx="457.4" cy="368.7" r="1.5" fill="url(#rg)"/>
<circle cx="442.2" cy="273.2" r="1.5" fill="#000"/>
<circle cx="414.0" cy="188.9" r="1.5" fill="url(#gg)"/>
<circle cx="416.1" cy="280.8" r="1.5" fill="#000"/>
<circle cx="473.6" cy="277.3" r="1.5" fill="#000"/>
<circle cx="460.2" cy="279.8" r="1.5" fill="#000"/>
<circle cx="443.0" cy="271.6" r="1.5" fill="#000"/>
<circle cx="450.6" cy="333.7" r="1.5" fill="url(#rg)"/>
<circle cx="423.8" cy="273.9" r="1.5" fill="#000"/>
<circle cx="478.2" cy="278.3" r="1.5" fill="#000"/>
<circle cx="421.0" cy="289.5" r="1.5" fill="#000"/>
<circle cx="454.8" cy="276.3" r="1.5" fill="#000"/>
<circle cx="428.4" cy="266.6" r="1.5" fill="#000"/>
<circle cx="460.2" cy="265.4" r="1.5" fill="#000"/>
<circle cx="448.5" cy="273.0" r="1.5" fill="#000"/>
<circle cx="449.7" cy="277.4" r="1.5" fill="#000"/>
<circle cx="422.9" cy="287.1" r="1.5" fill="#000"/>
<circle cx="465.7" cy="270.3" r="1.5" fill="#000"/>
<circle cx="471.9" cy="271.9" r="1.5" fill="#000"/>
<circle cx="475.0" cy="213.0" r="1.5" fill="url(#gg)"/>
<circle cx="453.4" cy="281.0" r="1.5" fill="#000"/>
<circle cx="434.9" cy="259.1" r="1.5" fill="url(#gg)"/>
<circle cx="433.0" cy="367.6" r="1.5" fill="url(#rg)"/>
<circle cx="452.7" cy="331.4" r="1.5" fill="url(#rg)"/>
<circle cx="478.4" cy="257.7" r="1.5" fill="url(#gg)"/>
<circle cx="420.0" cy="281.8" r="1.5" fill="#000"/>
<circle cx="415.8" cy="252.1" r="1.5" fill="url(#gg)"/>
<circle cx="442.9" cy="266.1" r="1.5" fill="#000"/>
<circle cx="463.8" cy="248.9" r="1.5" fill="url(#gg)"/>
<circle cx="437.2" cy="280.4" r="1.5" fill="#000"/>
<circle cx="428.5" cy="269.3" r="1.5" fill="#000"/>
<circle cx="434.1" cy="240.5" r="1.5" fill="url(#gg)"/>
<circle cx="473.5" cy="301.0" r="1.5" fill="url(#rg)"/>
<circle cx="441.2" cy="256.5" r="1.5" fill="url(#gg)"/>
<circle cx="445.7" cy="287.2" r="1.5" fill="#000"/>
<circle cx="473.9" cy="271.6" r="1.5" fill="#000"/>
<circle cx="455.7" cy="279.7" r="1.5" fill="#000"/>
<circle cx="448.7" cy="255.2" r="1.5" fill="url(#gg)"/>
<circle cx="431.7" cy="285.0" r="1.5" fill="#000"/>
<circle cx="422.5" cy="357.1" r="1.5" fill="url(#rg)"/>
<circle cx="468.6" cy="287.9" r="1.5" fill="#000"/>
<circle cx="444.3" cy="283.5" r="1.5" fill="#000"/>
<circle cx="442.1" cy="390.6" r="1.5" fill="url(#rg)"/>
<circle cx="427.4" cy="286.7" r="1.5" fill="#000"/>
<circle cx="437.2" cy="298.1" r="1.5" fill="url(#rg)"/>
<circle cx="428.7" cy="294.4" r="1.5" fill="url(#rg)"/>
<circle cx="439.4" cy="269.2" r="1.5" fill="#000"/>
<circle cx="415.9" cy="280.2" r="1.5" fill="#000"/>
<circle cx="414.4" cy="288.1" r="1.5" fill="#000"/>
<circle cx="477.8" cy="277.3" r="1.5" fill="#000"/>
<circle cx="452.7" cy="398.8" r="1.5" fill="url(#rg)"/>
<circle cx="455.6" cy="272.3" r="1.5" fill="#000"/>
<circle cx="416.1" cy="281.2" r="1.5" fill="#000"/>
<circle cx="476.9" cy="293.9" r="1.5" fill="#000"/>
<circle cx="454.7" cy="291.8" r="1.5" fill="#000"/>
<circle cx="456.1" cy="232.4" r="1.5" fill="url(#gg)"/>
<circle cx="457.2" cy="241.2" r="1.5" fill="url(#gg)"/>
<circle cx="451.2" cy="284.2" r="1.5" fill="#000"/>
<circle cx="460.5" cy="275.2" r="1.5" fill="#000"/>
<circle cx="447.9" cy="363.7" r="1.5" fill="url(#rg)"/>
<circle cx="436.6" cy="256.7" r="1.5" fill="url(#gg)"/>
<circle cx="435.8" cy="280.1" r="1.5" fill="#000"/>
<circle cx="477.1" cy="290.6" r="1.5" fill="#000"/>
<circle cx="426.6" cy="292.8" r="1.5" fill="#000"/>
<circle cx="441.9" cy="299.8" r="1.5" fill="url(#rg)"/>
<circle cx="460.6" cy="300.4" r="1.5" fill="url(#rg)"/>
<circle cx="470.2" cy="393.9" r="1.5" fill="url(#rg)"/>
<circle cx="477.6" cy="275.3" r="1.5" fill="#000"/>
<circle cx="429.6" cy="282.5" r="1.5" fill="#000"/>
<circle cx="474.0" cy="274.2" r="1.5" fill="#000"/>
<circle cx="422.7" cy="263.9" r="1.5" fill="#000"/>
<circle cx="474.9" cy="282.0" r="1.5" fill="#000"/>
<circle cx="444.9" cy="288.6" r="1.5" fill="#000"/>
<circle cx="475.4" cy="289.7" r="1.5" fill="#000"/>
<circle cx="453.9" cy="281.7" r="1.5" fill="#000"/>
<circle cx="463.8" cy="263.7" r="1.5" fill="#000"/>
<circle cx="417.4" cy="297.5" r="1.5" fill="url(#rg)"/>
<circle cx="444.6" cy="289.6" r="1.5" fill="#000"/>
<circle cx="459.7" cy="278.1" r="1.5" fill="#000"/>
<circle cx="478.3" cy="285.4" r="1.5" fill="#000"/>
<circle cx="478.2" cy="289.6" r="1.5" fill="#000"/>
<circle cx="465.2" cy="284.5" r="1.5" fill="#000"/>
<circle cx="455.2" cy="267.6" r="1.5" fill="#000"/>
<circle cx="418.1" cy="287.9" r="1.5" fill="#000"/>
<circle cx="462.9" cy="282.7" r="1.5" fill="#000"/>
<circle cx="476.7" cy="264.3" r="1.5" fill="#000"/>
<circle cx="452.5" cy="287.8" r="1.5" fill="#000"/>
<circle cx="447.8" cy="287.1" r="1.5" fill="#000"/>
<circle cx="444.9" cy="343.1" r="1.5" fill="url(#rg)"/>
<circle cx="439.5" cy="314.9" r="1.5" fill="url(#rg)"/>
<circle cx="448.0" cy="287.1" r="1.5" fill="#000"/>
<circle cx="453.9" cy="287.1" r="1.5" fill="#000"/>
<circle cx="459.3" cy="292.0" r="1.5" fill="#000"/>
<circle cx="445.1" cy="340.4" r="1.5" fill="url(#rg)"/>
<circle cx="456.7" cy="279.4" r="1.5" fill="#000"/>
<circle cx="462.7" cy="181.5" r="1.5" fill="url(#gg)"/>
<circle cx="443.7" cy="281.1" r="1.5" fill="#000"/>
<circle cx="455.5" cy="283.8" r="1.5" fill="#000"/>
<circle cx="424.0" cy="312.1" r="1.5" fill="url(#rg)"/>
<circle cx="457.3" cy="294.6" r="1.5" fill="url(#rg)"/>
<circle cx="434.9" cy="283.2" r="1.5" fill="#000"/>
<circle cx="429.6" cy="269.8" r="1.5" fill="#000"/>
<circle cx="477.9" cy="280.8" r="1.5" fill="#000"/>
<circle cx="461.2" cy="222.4" r="1.5" fill="url(#gg)"/>
<circle cx="477.1" cy="275.0" r="1.5" fill="#000"/>
<circle cx="418.8" cy="244.6" r="1.5" fill="url(#gg)"/>
<circle cx="442.6" cy="233.3" r="1.5" fill="url(#gg)"/>
<circle cx="438.0" cy="281.3" r="1.5" fill="#000"/>
<circle cx="447.5" cy="293.5" r="1.5" fill="#000"/>
<circle cx="418.2" cy="331.7" r="1.5" fill="url(#rg)"/>
<circle cx="465.8" cy="294.5" r="1.5" fill="#000"/>
<circle cx="468.1" cy="332.7" r="1.5" fill="url(#rg)"/>
<circle cx="436.5" cy="266.6" r="1.5" fill="#000"/>
<circle cx="414.3" cy="283.7" r="1.5" fill="#000"/>
<circle cx="448.5" cy="316.9" r="1.5" fill="url(#rg)"/>
<circle cx="469.8" cy="290.9" r="1.5" fill="#000"/>
<circle cx="458.6" cy="284.9" r="1.5" fill="#000"/>
<circle cx="460.4" cy="283.9" r="1.5" fill="#000"/>
<circle cx="455.4" cy="273.8" r="1.5" fill="#000"/>
<circle cx="426.9" cy="290.1" r="1.5" fill="#000"/>
<circle cx="421.3" cy="374.3" r="1.5" fill="url(#rg)"/>
<circle cx="435.2" cy="281.2" r="1.5" fill="#000"/>
<circle cx="458.4" cy="285.2" r="1.5" fill="#000"/>
<circle cx="470.1" cy="314.0" r="1.5" fill="url(#rg)"/>
<circle cx="443.0" cy="287.4" r="1.5" fill="#000"/>
<circle cx="429.0" cy="277.5" r="1.5" fill="#000"/>
<circle cx="477.8" cy="287.4" r="1.5" fill="#000"/>
<circle cx="466.5" cy="294.1" r="1.5" fill="#000"/>
<circle cx="459.3" cy="271.9" r="1.5" fill="#000"/>
<circle cx="424.4" cy="279.0" r="1.5" fill="#000"/>
<circle cx="475.5" cy="257.3" r="1.5" fill="url(#gg)"/>
<circle cx="436.8" cy="286.9" r="1.5" fill="#000"/>
<circle cx="427.4" cy="371.1" r="1.5" fill="url(#rg)"/>
<circle cx="436.3" cy="269.8" r="1.5" fill="#000"/>
<circle cx="469.6" cy="292.7" r="1.5" fill="#000"/>
<circle cx="474.3" cy="275.2" r="1.5" fill="#000"/>
<circle cx="475.5" cy="293.8" r="1.5" fill="#000"/>
<circle cx="453.0" cy="296.1" r="1.5" fill="url(#rg)"/>
<circle cx="427.6" cy="285.1" r="1.5" fill="#000"/>
<circle cx="462.4" cy="281.6" r="1.5" fill="#000"/>
<circle cx="476.1" cy="274.1" r="1.5" fill="#000"/>
<circle cx="429.1" cy="257.3" r="1.5" fill="url(#gg)"/>
<circle cx="467.1" cy="254.0" r="1.5" fill="url(#gg)"/>
<circle cx="439.1" cy="338.9" r="1.5" fill="url(#rg)"/>
<circle cx="419.3" cy="295.0" r="1.5" fill="#000"/>
<circle cx="423.2" cy="302.3" r="1.5" fill="url(#rg)"/>
<circle cx="469.3" cy="283.1" r="1.5" fill="#000"/>
<circle cx="463.7" cy="359.5" r="1.5" fill="url(#rg)"/>
<circle cx="477.7" cy="269.0" r="1.5" fill="#000"/>
<circle cx="478.9" cy="280.7" r="1.5" fill="#000"/>
<circle cx="477.2" cy="281.1" r="1.5" fill="#000"/>
<circle cx="419.7" cy="277.5" r="1.5" fill="#000"/>
<circle cx="479.3" cy="269.3" r="1.5" fill="#000"/>
<circle cx="429.5" cy="262.7" r="1.5" fill="url(#gg)"/>
<circle cx="445.6" cy="276.3" r="1.5" fill="#000"/>
<circle cx="470.8" cy="261.7" r="1.5" fill="url(#gg)"/>
<circle cx="423.4" cy="294.7" r="1.5" fill="#000"/>
<circle cx="458.2" cy="315.2" r="1.5" fill="url(#rg)"/>
<circle cx="438.3" cy="219.6" r="1.5" fill="url(#gg)"/>
<circle cx="423.5" cy="151.4" r="1.5" fill="url(#gg)"/>
<circle cx="478.3" cy="283.1" r="1.5" fill="#000"/>
<circle cx="456.3" cy="282.5" r="1.5" fill="#000"/>
<circle cx="429.2" cy="292.4" r="1.5" fill="#000"/>
<circle cx="464.7" cy="227.3" r="1.5" fill="url(#gg)"/>
<circle cx="448.7" cy="292.9" r="1.5" fill="#000"/>
<circle cx="454.0" cy="245.0" r="1.5" fill="url(#gg)"/>
<circle cx="451.5" cy="277.5" r="1.5" fill="#000"/>
<circle cx="457.0" cy="266.7" r="1.5" fill="#000"/>
<circle cx="457.1" cy="291.8" r="1.5" fill="#000"/>
<circle cx="443.9" cy="343.9" r="1.5" fill="url(#rg)"/>
<circle cx="473.1" cy="269.0" r="1.5" fill="#000"/>
<circle cx="451.1" cy="289.4" r="1.5" fill="#000"/>
<circle cx="418.1" cy="263.8" r="1.5" fill="#000"/>
<circle cx="437.5" cy="259.7" r="1.5" fill="url(#gg)"/>
<circle cx="451.7" cy="264.1" r="1.5" fill="#000"/>
<circle cx="439.3" cy="288.9" r="1.5" fill="#000"/>
<circle cx="437.2" cy="274.5" r="1.5" fill="#000"/>
<circle cx="476.8" cy="291.0" r="1.5" fill="#000"/>
<circle cx="457.2" cy="283.7" r="1.5" fill="#000"/>
<circle cx="417.8" cy="277.2" r="1.5" fill="#000"/>
<circle cx="470.4" cy="176.6" r="1.5" fill="url(#gg)"/>
<circle cx="460.7" cy="288.0" r="1.5" fill="#000"/>
<circle cx="460.5" cy="294.5" r="1.5" fill="url(#rg)"/>
<circle cx="440.1" cy="292.3" r="1.5" fill="#000"/>
<circle cx="460.6" cy="283.5" r="1.5" fill="#000"/>
<circle cx="425.0" cy="272.8" r="1.5" fill="#000"/>
<circle cx="445.7" cy="286.0" r="1.5" fill="#000"/>
<circle cx="415.3" cy="276.0" r="1.5" fill="#000"/>
<circle cx="456.8" cy="258.0" r="1.5" fill="url(#gg)"/>
<circle cx="429.7" cy="283.7" r="1.5" fill="#000"/>
<circle cx="453.2" cy="191.8" r="1.5" fill="url(#gg)"/>
<circle cx="474.1" cy="276.7" r="1.5" fill="#000"/>
<circle cx="425.5" cy="294.0" r="1.5" fill="#000"/>
<circle cx="433.1" cy="293.2" r="1.5" fill="#000"/>
<circle cx="477.5" cy="295.1" r="1.5" fill="#000"/>
<circle cx="442.6" cy="195.8" r="1.5" fill="url(#gg)"/>
<circle cx="472.9" cy="250.7" r="1.5" fill="url(#gg)"/>
<circle cx="425.5" cy="186.6" r="1.5" fill="url(#gg)"/>
<circle cx="456.1" cy="301.8" r="1.5" fill="url(#rg)"/>
<circle cx="479.3" cy="265.5" r="1.5" fill="#000"/>
<circle cx="447.3" cy="272.7" r="1.5" fill="#000"/>
<circle cx="440.3" cy="271.6" r="1.5" fill="#000"/>
<circle cx="425.6" cy="382.8" r="1.5" fill="url(#rg)"/>
<circle cx="472.5" cy="272.2" r="1.5" fill="#000"/>
<circle cx="473.3" cy="230.2" r="1.5" fill="url(#gg)"/>
<circle cx="450.6" cy="262.2" r="1.5" fill="url(#gg)"/>
<circle cx="442.3" cy="280.9" r="1.5" fill="#000"/>
<circle cx="476.8" cy="295.7" r="1.5" fill="url(#rg)"/>
<circle cx="475.0" cy="249.8" r="1.5" fill="url(#gg)"/>
<circle cx="479.6" cy="340.1" r="1.5" fill="url(#rg)"/>
<circle cx="427.5" cy="282.8" r="1.5" fill="#000"/>
<circle cx="453.9" cy="284.3" r="1.5" fill="#000"/>
<circle cx="452.7" cy="231.9" r="1.5" fill="url(#gg)"/>
<circle cx="416.8" cy="268.4" r="1.5" fill="#000"/>
<circle cx="419.8" cy="287.8" r="1.5" fill="#000"/>
<circle cx="446.9" cy="260.9" r="1.5" fill="url(#gg)"/>
<circle cx="478.4" cy="303.9" r="1.5" fill="url(#rg)"/>
<circle cx="448.5" cy="288.5" r="1.5" fill="#000"/>
<circle cx="464.0" cy="281.9" r="1.5" fill="#000"/>
<circle cx="427.0" cy="290.5" r="1.5" fill="#000"/>
<circle cx="444.7" cy="241.1" r="1.5" fill="url(#gg)"/>
<circle cx="442.3" cy="292.6" r="1.5" fill="#000"/>
<circle cx="467.5" cy="151.4" r="1.5" fill="url(#gg)"/>
<circle cx="439.9" cy="272.7" r="1.5" fill="#000"/>
<circle cx="470.0" cy="316.9" r="1.5" fill="url(#rg)"/>
<circle cx="417.7" cy="276.0" r="1.5" fill="#000"/>
<circle cx="464.9" cy="286.3" r="1.5" fill="#000"/>
<circle cx="418.8" cy="258.8" r="1.5" fill="url(#gg)"/>
<circle cx="472.9" cy="271.5" r="1.5" fill="#000"/>
<circle cx="455.1" cy="290.3" r="1.5" fill="#000"/>
<circle cx="436.9" cy="287.4" r="1.5" fill="#000"/>
<circle cx="466.0" cy="265.0" r="1.5" fill="#000"/>
<circle cx="460.3" cy="257.9" r="1.5" fill="url(#gg)"/>
<circle cx="473.2" cy="290.1" r="1.5" fill="#000"/>
<circle cx="465.1" cy="269.4" r="1.5" fill="#000"/>
<circle cx="424.6" cy="265.7" r="1.5" fill="#000"/>
<circle cx="478.7" cy="289.5" r="1.5" fill="#000"/>
<circle cx="423.1" cy="286.5" r="1.5" fill="#000"/>
<circle cx="454.1" cy="287.5" r="1.5" fill="#000"/>
<circle cx="471.3" cy="266.0" r="1.5" fill="#000"/>
<circle cx="458.1" cy="253.9" r="1.5" fill="url(#gg)"/>
<circle cx="467.6" cy="286.8" r="1.5" fill="#000"/>
<circle cx="438.6" cy="289.9" r="1.5" fill="#000"/>
<circle cx="418.9" cy="289.2" r="1.5" fill="#000"/>
<circle cx="439.8" cy="208.1" r="1.5" fill="url(#gg)"/>
<circle cx="451.0" cy="286.7" r="1.5" fill="#000"/>
<circle cx="425.5" cy="280.7" r="1.5" fill="#000"/>
<circle cx="477.7" cy="291.0" r="1.5" fill="#000"/>
<circle cx="446.2" cy="281.0" r="1.5" fill="#000"/>
<circle cx="448.2" cy="274.6" r="1.5" fill="#000"/>
<circle cx="437.4" cy="283.1" r="1.5" fill="#000"/>
<circle cx="441.9" cy="265.4" r="1.5" fill="#000"/>
<circle cx="434.9" cy="204.4" r="1.5" fill="url(#gg)"/>
<circle cx="450.4" cy="286.7" r="1.5" fill="#000"/>
<circle cx="419.7" cy="278.6" r="1.5" fill="#000"/>
<circle cx="455.9" cy="287.4" r="1.5" fill="#000"/>
<circle cx="427.3" cy="277.5" r="1.5" fill="#000"/>
<circle cx="474.6" cy="343.8" r="1.5" fill="url(#rg)"/>
<circle cx="466.8" cy="279.5" r="1.5" fill="#000"/>
<circle cx="441.4" cy="288.1" r="1.5" fill="#000"/>
<circle cx="430.2" cy="279.4" r="1.5" fill="#000"/>
<circle cx="464.2" cy="270.5" r="1.5" fill="#000"/>
<circle cx="428.6" cy="273.7" r="1.5" fill="#000"/>
<circle cx="451.3" cy="275.1" r="1.5" fill="#000"/>
<circle cx="416.4" cy="294.9" r="1.5" fill="#000"/>
<circle cx="437.4" cy="277.5" r="1.5" fill="#000"/>
<circle cx="424.7" cy="288.6" r="1.5" fill="#000"/>
<circle cx="434.0" cy="255.1" r="1.5" fill="url(#gg)"/>
<circle cx="435.2" cy="262.5" r="1.5" fill="url(#gg)"/>
<circle cx="455.8" cy="284.8" r="1.5" fill="#000"/>
<circle cx="475.9" cy="282.7" r="1.5" fill="#000"/>
<circle cx="467.9" cy="277.4" r="1.5" fill="#000"/>
<circle cx="469.9" cy="311.4" r="1.5" fill="url(#rg)"/>
<circle cx="414.7" cy="270.0" r="1.5" fill="#000"/>
<circle cx="423.4" cy="270.7" r="1.5" fill="#000"/>
<circle cx="420.0" cy="288.8" r="1.5" fill="#000"/>
<circle cx="415.4" cy="287.5" r="1.5" fill="#000"/>
<circle cx="469.4" cy="290.7" r="1.5" fill="#000"/>
<circle cx="475.8" cy="270.8" r="1.5" fill="#000"/>
<circle cx="461.4" cy="272.4" r="1.5" fill="#000"/>
<circle cx="459.5" cy="286.5" r="1.5" fill="#000"/>
<circle cx="457.1" cy="300.9" r="1.5" fill="url(#rg)"/>
<circle cx="473.2" cy="310.2" r="1.5" fill="url(#rg)"/>
<circle cx="431.1" cy="275.2" r="1.5" fill="#000"/>
<circle cx="438.0" cy="363.5" r="1.5" fill="url(#rg)"/>
<circle cx="428.9" cy="272.1" r="1.5" fill="#000"/>
<circle cx="454.7" cy="276.0" r="1.5" fill="#000"/>
<circle cx="417.9" cy="272.4" r="1.5" fill="#000"/>
<circle cx="456.8" cy="292.6" r="1.5" fill="#000"/>
<circle cx="479.0" cy="211.8" r="1.5" fill="url(#gg)"/>
<circle cx="442.0" cy="275.4" r="1.5" fill="#000"/>
<circle cx="437.7" cy="369.5" r="1.5" fill="url(#rg)"/>
<circle cx="432.5" cy="335.6" r="1.5" fill="url(#rg)"/>
<circle cx="435.4" cy="288.7" r="1.5" fill="#000"/>
<circle cx="424.1" cy="265.4" r="1.5" fill="#000"/>
<circle cx="438.1" cy="293.1" r="1.5" fill="#000"/>
<circle cx="428.7" cy="317.0" r="1.5" fill="url(#rg)"/>
<circle cx="472.5" cy="281.0" r="1.5" fill="#000"/>
<circle cx="443.1" cy="290.3" r="1.5" fill="#000"/>
<circle cx="429.8" cy="261.8" r="1.5" fill="url(#gg)"/>
<circle cx="426.6" cy="268.6" r="1.5" fill="#000"/>
<circle cx="447.0" cy="285.8" r="1.5" fill="#000"/>
<circle cx="477.2" cy="288.1" r="1.5" fill="#000"/>
<circle cx="444.7" cy="285.2" r="1.5" fill="#000"/>
<circle cx="472.8" cy="273.0" r="1.5" fill="#000"/>
<circle cx="476.8" cy="306.7" r="1.5" fill="url(#rg)"/>
<circle cx="470.6" cy="293.3" r="1.5" fill="#000"/>
<circle cx="478.8" cy="254.1" r="1.5" fill="url(#gg)"/>
<circle cx="454.7" cy="321.2" r="1.5" fill="url(#rg)"/>
<circle cx="414.3" cy="257.0" r="1.5" fill="url(#gg)"/>
<circle cx="419.1" cy="316.5" r="1.5" fill="url(#rg)"/>
<circle cx="455.4" cy="269.9" r="1.5" fill="#000"/>
<circle cx="466.5" cy="276.9" r="1.5" fill="#000"/>
<circle cx="478.9" cy="283.0" r="1.5" fill="#000"/>
<circle cx="440.8" cy="271.1" r="1.5" fill="#000"/>
<circle cx="477.9" cy="292.9" r="1.5" fill="#000"/>
<circle cx="416.0" cy="313.7" r="1.5" fill="url(#rg)"/>
<circle cx="461.9" cy="381.7" r="1.5" fill="url(#rg)"/>
<circle cx="466.2" cy="261.1" r="1.5" fill="url(#gg)"/>
<circle cx="416.1" cy="280.8" r="1.5" fill="#000"/>
<circle cx="443.3" cy="267.1" r="1.5" fill="#000"/>
<circle cx="431.5" cy="355.0" r="1.5" fill="url(#rg)"/>
<circle cx="433.4" cy="266.8" r="1.5" fill="#000"/>
<circle cx="430.0" cy="282.8" r="1.5" fill="#000"/>
<circle cx="416.1" cy="257.0" r="1.5" fill="url(#gg)"/>
<circle cx="467.1" cy="272.5" r="1.5" fill="#000"/>
<circle cx="434.4" cy="273.4" r="1.5" fill="#000"/>
<circle cx="418.2" cy="314.6" r="1.5" fill="url(#rg)"/>
<circle cx="457.9" cy="272.3" r="1.5" fill="#000"/>
<circle cx="451.8" cy="246.8" r="1.5" fill="url(#gg)"/>
<circle cx="449.5" cy="264.3" r="1.5" fill="#000"/>
<circle cx="469.1" cy="304.6" r="1.5" fill="url(#rg)"/>
<circle cx="466.9" cy="290.0" r="1.5" fill="#000"/>
<circle cx="448.1" cy="280.3" r="1.5" fill="#000"/>
<circle cx="450.4" cy="272.6" r="1.5" fill="#000"/>
<circle cx="465.1" cy="292.4" r="1.5" fill="#000"/>
<circle cx="438.4" cy="290.0" r="1.5" fill="#000"/>
<circle cx="466.4" cy="198.9" r="1.5" fill="url(#gg)"/>
<circle cx="475.7" cy="243.3" r="1.5" fill="url(#gg)"/>
<circle cx="422.9" cy="316.4" r="1.5" fill="url(#rg)"/>
<circle cx="426.9" cy="183.2" r="1.5" fill="url(#gg)"/>
<circle cx="445.3" cy="311.7" r="1.5" fill="url(#rg)"/>
<circle cx="452.5" cy="279.1" r="1.5" fill="#000"/>
<circle cx="472.4" cy="289.2" r="1.5" fill="#000"/>
<circle cx="416.9" cy="269.8" r="1.5" fill="#000"/>
<circle cx="467.7" cy="286.3" r="1.5" fill="#000"/>
<circle cx="425.6" cy="280.3" r="1.5" fill="#000"/>
<circle cx="472.7" cy="244.8" r="1.5" fill="url(#gg)"/>
<circle cx="428.9" cy="265.0" r="1.5" fill="#000"/>
<circle cx="475.2" cy="284.7" r="1.5" fill="#000"/>
<circle cx="468.8" cy="261.7" r="1.5" fill="url(#gg)"/>
<circle cx="440.3" cy="275.6" r="1.5" fill="#000"/>
<circle cx="471.0" cy="348.7" r="1.5" fill="url(#rg)"/>
<circle cx="442.7" cy="284.2" r="1.5" fill="#000"/>
<circle cx="440.0" cy="308.2" r="1.5" fill="url(#rg)"/>
<circle cx="424.0" cy="236.7" r="1.5" fill="url(#gg)"/>
<circle cx="462.9" cy="356.6" r="1.5" fill="url(#rg)"/>
<circle cx="477.0" cy="185.2" r="1.5" fill="url(#gg)"/>
<circle cx="440.9" cy="281.6" r="1.5" fill="#000"/>
<circle cx="427.9" cy="270.7" r="1.5" fill="#000"/>
<circle cx="427.5" cy="275.5" r="1.5" fill="#000"/>
<circle cx="416.0" cy="269.3" r="1.5" fill="#000"/>
<circle cx="457.5" cy="350.1" r="1.5" fill="url(#rg)"/>
<circle cx="470.4" cy="231.0" r="1.5" fill="url(#gg)"/>
<circle cx="445.2" cy="290.5" r="1.5" fill="#000"/>
<circle cx="435.9" cy="268.9" r="1.5" fill="#000"/>
<circle cx="415.4" cy="226.7" r="1.5" fill="url(#gg)"/>
<circle cx="443.9" cy="282.3" r="1.5" fill="#000"/>
<circle cx="474.8" cy="279.6" r="1.5" fill="#000"/>
<circle cx="475.9" cy="269.6" r="1.5" fill="#000"/>
<circle cx="472.6" cy="256.7" r="1.5" fill="url(#gg)"/>
<circle cx="440.0" cy="264.6" r="1.5" fill="#000"/>
<circle cx="441.7" cy="267.3" r="1.5" fill="#000"/>
<circle cx="423.0" cy="276.5" r="1.5" fill="#000"/>
<circle cx="472.7" cy="300.1" r="1.5" fill="url(#rg)"/>
<circle cx="456.6" cy="290.2" r="1.5" fill="#000"/>
<circle cx="460.1" cy="372.9" r="1.5" fill="url(#rg)"/>
<circle cx="470.0" cy="287.9" r="1.5" fill="#000"/>
<circle cx="443.0" cy="344.6" r="1.5" fill="url(#rg)"/>
<circle cx="459.6" cy="284.9" r="1.5" fill="#000"/>
<circle cx="423.9" cy="257.2" r="1.5" fill="url(#gg)"/>
<circle cx="474.5" cy="244.1" r="1.5" fill="url(#gg)"/>
<circle cx="459.4" cy="282.5" r="1.5" fill="#000"/>
<circle cx="454.7" cy="279.5" r="1.5" fill="#000"/>
<circle cx="414.9" cy="280.7" r="1.5" fill="#000"/>
<circle cx="448.0" cy="267.7" r="1.5" fill="#000"/>
<circle cx="415.0" cy="278.5" r="1.5" fill="#000"/>
<circle cx="414.0" cy="378.6" r="1.5" fill="url(#rg)"/>
<circle cx="451.7" cy="266.3" r="1.5" fill="#000"/>
<circle cx="436.8" cy="278.6" r="1.5" fill="#000"/>
<circle cx="466.5" cy="271.3" r="1.5" fill="#000"/>
<circle cx="415.6" cy="283.4" r="1.5" fill="#000"/>
<circle cx="444.5" cy="277.8" r="1.5" fill="#000"/>
<circle cx="461.0" cy="319.1" r="1.5" fill="url(#rg)"/>
<circle cx="472.0" cy="286.8" r="1.5" fill="#000"/>
<circle cx="448.6" cy="288.1" r="1.5" fill="#000"/>
<circle cx="452.7" cy="277.9" r="1.5" fill="#000"/>
<circle cx="460.2" cy="295.2" r="1.5" fill="url(#rg)"/>
<circle cx="466.7" cy="275.1" r="1.5" fill="#000"/>
<circle cx="466.8" cy="273.0" r="1.5" fill="#000"/>
<circle cx="467.4" cy="258.6" r="1.5" fill="url(#gg)"/>
<circle cx="469.0" cy="271.5" r="1.5" fill="#000"/>
<circle cx="424.1" cy="285.4" r="1.5" fill="#000"/>
<circle cx="462.6" cy="286.3" r="1.5" fill="#000"/>
<circle cx="420.4" cy="281.9" r="1.5" fill="#000"/>
<circle cx="440.3" cy="271.3" r="1.5" fill="#000"/>
<circle cx="467.8" cy="269.8" r="1.5" fill="#000"/>
<circle cx="444.2" cy="277.1" r="1.5" fill="#000"/>
<circle cx="423.0" cy="277.6" r="1.5" fill="#000"/>
<circle cx="477.0" cy="266.3" r="1.5" fill="#000"/>
<circle cx="479.4" cy="259.7" r="1.5" fill="url(#gg)"/>
<circle cx="419.1" cy="269.6" r="1.5" fill="#000"/>
<circle cx="417.1" cy="253.0" r="1.5" fill="url(#gg)"/>
<circle cx="448.7" cy="311.3" r="1.5" fill="url(#rg)"/>
<circle cx="466.9" cy="294.5" r="1.5" fill="url(#rg)"/>
<circle cx="435.0" cy="298.2" r="1.5" fill="url(#rg)"/>
<circle cx="415.2" cy="261.1" r="1.5" fill="url(#gg)"/>
<circle cx="426.9" cy="355.6" r="1.5" fill="url(#rg)"/>
<circle cx="470.3" cy="350.7" r="1.5" fill="url(#rg)"/>
<circle cx="455.8" cy="283.5" r="1.5" fill="#000"/>
<circle cx="468.8" cy="268.5" r="1.5" fill="#000"/>
<circle cx="415.7" cy="270.0" r="1.5" fill="#000"/>
<circle cx="479.6" cy="273.3" r="1.5" fill="#000"/>
<circle cx="421.7" cy="190.1" r="1.5" fill="url(#gg)"/>
<circle cx="422.5" cy="278.9" r="1.5" fill="#000"/>
<circle cx="427.2" cy="306.1" r="1.5" fill="url(#rg)"/>
<circle cx="439.6" cy="273.2" r="1.5" fill="#000"/>
<circle cx="417.0" cy="310.1" r="1.5" fill="url(#rg)"/>
<circle cx="462.7" cy="215.3" r="1.5" fill="url(#gg)"/>
<circle cx="440.1" cy="303.0" r="1.5" fill="url(#rg)"/>
<circle cx="455.3" cy="275.8" r="1.5" fill="#000"/>
<circle cx="445.2" cy="274.4" r="1.5" fill="#000"/>
<circle cx="430.5" cy="250.2" r="1.5" fill="url(#gg)"/>
<circle cx="458.4" cy="277.5" r="1.5" fill="#000"/>
<circle cx="479.0" cy="282.1" r="1.5" fill="#000"/>
<circle cx="465.0" cy="297.4" r="1.5" fill="url(#rg)"/>
<circle cx="477.2" cy="276.5" r="1.5" fill="#000"/>
<circle cx="456.2" cy="262.8" r="1.5" fill="url(#gg)"/>
<circle cx="444.7" cy="283.4" r="1.5" fill="#000"/>
<circle cx="474.4" cy="278.3" r="1.5" fill="#000"/>
<circle cx="428.9" cy="265.7" r="1.5" fill="#000"/>
<circle cx="422.0" cy="276.6" r="1.5" fill="#000"/>
<circle cx="419.8" cy="299.3" r="1.5" fill="url(#rg)"/>
<circle cx="450.4" cy="287.6" r="1.5" fill="#000"/>
<circle cx="431.6" cy="318.4" r="1.5" fill="url(#rg)"/>
<circle cx="462.3" cy="290.2" r="1.5" fill="#000"/>
<circle cx="476.5" cy="289.5" r="1.5" fill="#000"/>
<circle cx="416.6" cy="284.4" r="1.5" fill="#000"/>
<circle cx="448.3" cy="381.2" r="1.5" fill="url(#rg)"/>
<circle cx="423.1" cy="288.8" r="1.5" fill="#000"/>
<circle cx="462.5" cy="282.5" r="1.5" fill="#000"/>
<circle cx="454.6" cy="263.4" r="1.5" fill="#000"/>
<circle cx="438.9" cy="287.9" r="1.5" fill="#000"/>
<circle cx="459.5" cy="356.5" r="1.5" fill="url(#rg)"/>
<circle cx="426.9" cy="239.0" r="1.5" fill="url(#gg)"/>
<circle cx="479.2" cy="305.0" r="1.5" fill="url(#rg)"/>
<circle cx="451.1" cy="292.2" r="1.5" fill="#000"/>
<circle cx="440.5" cy="293.3" r="1.5" fill="#000"/>
<circle cx="432.9" cy="271.1" r="1.5" fill="#000"/>
<circle cx="435.1" cy="243.5" r="1.5" fill="url(#gg)"/>
<circle cx="440.0" cy="245.6" r="1.5" fill="url(#gg)"/>
<circle cx="469.2" cy="288.7" r="1.5" fill="#000"/>
<circle cx="414.5" cy="276.4" r="1.5" fill="#000"/>
<circle cx="450.9" cy="286.4" r="1.5" fill="#000"/>
<circle cx="420.2" cy="285.6" r="1.5" fill="#000"/>
<circle cx="437.9" cy="371.6" r="1.5" fill="url(#rg)"/>
<circle cx="432.8" cy="285.1" r="1.5" fill="#000"/>
<circle cx="448.2" cy="285.2" r="1.5" fill="#000"/>
<circle cx="440.9" cy="330.7" r="1.5" fill="url(#rg)"/>
<circle cx="416.2" cy="273.7" r="1.5" fill="#000"/>
<circle cx="473.5" cy="270.0" r="1.5" fill="#000"/>
<circle cx="435.1" cy="280.4" r="1.5" fill="#000"/>
<circle cx="456.8" cy="284.1" r="1.5" fill="#000"/>
<circle cx="422.7" cy="275.4" r="1.5" fill="#000"/>
<circle cx="429.8" cy="129.9" r="1.5" fill="url(#gg)"/>
<circle cx="437.7" cy="258.2" r="1.5" fill="url(#gg)"/>
<circle cx="429.0" cy="286.4" r="1.5" fill="#000"/>
<circle cx="433.0" cy="271.1" r="1.5" fill="#000"/>
<circle cx="457.3" cy="376.0" r="1.5" fill="url(#rg)"/>
<circle cx="442.9" cy="277.2" r="1.5" fill="#000"/>
<circle cx="461.2" cy="292.7" r="1.5" fill="#000"/>
<circle cx="450.8" cy="282.8" r="1.5" fill="#000"/>
<circle cx="459.7" cy="270.9" r="1.5" fill="#000"/>
<circle cx="453.8" cy="298.4" r="1.5" fill="url(#rg)"/>
<circle cx="430.6" cy="388.2" r="1.5" fill="url(#rg)"/>
<circle cx="476.2" cy="277.3" r="1.5" fill="#000"/>
<circle cx="466.4" cy="290.1" r="1.5" fill="#000"/>
<circle cx="449.6" cy="295.9" r="1.5" fill="url(#rg)"/>
<circle cx="423.4" cy="288.0" r="1.5" fill="#000"/>
<circle cx="466.8" cy="293.2" r="1.5" fill="#000"/>
<circle cx="428.2" cy="285.0" r="1.5" fill="#000"/>
<circle cx="449.2" cy="289.1" r="1.5" fill="#000"/>
<circle cx="464.1" cy="271.7" r="1.5" fill="#000"/>
<circle cx="479.1" cy="285.1" r="1.5" fill="#000"/>
<circle cx="421.3" cy="289.6" r="1.5" fill="#000"/>
<circle cx="430.1" cy="272.5" r="1.5" fill="#000"/>
<circle cx="459.0" cy="315.9" r="1.5" fill="url(#rg)"/>
<circle cx="422.4" cy="262.0" r="1.5" fill="url(#gg)"/>
<circle cx="444.8" cy="288.7" r="1.5" fill="#000"/>
<circle cx="470.9" cy="285.6" r="1.5" fill="#000"/>
<circle cx="470.3" cy="277.7" r="1.5" fill="#000"/>
<circle cx="477.8" cy="226.7" r="1.5" fill="url(#gg)"/>
<circle cx="432.3" cy="288.9" r="1.5" fill="#000"/>
<circle cx="448.3" cy="382.8" r="1.5" fill="url(#rg)"/>
<circle cx="455.7" cy="352.9" r="1.5" fill="url(#rg)"/>
<circle cx="421.4" cy="281.6" r="1.5" fill="#000"/>
<circle cx="443.6" cy="282.5" r="1.5" fill="#000"/>
<circle cx="444.3" cy="279.4" r="1.5" fill="#000"/>
<circle cx="440.6" cy="287.4" r="1.5" fill="#000"/>
<circle cx="421.1" cy="294.4" r="1.5" fill="#000"/>
<circle cx="449.8" cy="285.7" r="1.5" fill="#000"/>
<circle cx="465.3" cy="251.7" r="1.5" fill="url(#gg)"/>
<circle cx="452.6" cy="292.7" r="1.5" fill="#000"/>
<circle cx="417.6" cy="282.3" r="1.5" fill="#000"/>
<circle cx="422.7" cy="315.2" r="1.5" fill="url(#rg)"/>
<circle cx="472.8" cy="280.8" r="1.5" fill="#000"/>
<circle cx="468.4" cy="274.6" r="1.5" fill="#000"/>
<circle cx="464.5" cy="315.8" r="1.5" fill="url(#rg)"/>
<circle cx="475.5" cy="292.3" r="1.5" fill="#000"/>
<circle cx="430.5" cy="293.6" r="1.5" fill="#000"/>
<circle cx="423.5" cy="263.5" r="1.5" fill="#000"/>
<circle cx="465.1" cy="267.9" r="1.5" fill="#000"/>
<circle cx="432.0" cy="260.7" r="1.5" fill="url(#gg)"/>
<circle cx="440.9" cy="286.6" r="1.5" fill="#000"/>
<circle cx="425.4" cy="243.6" r="1.5" fill="url(#gg)"/>
<circle cx="434.4" cy="283.1" r="1.5" fill="#000"/>
<circle cx="465.5" cy="216.7" r="1.5" fill="url(#gg)"/>
<circle cx="434.5" cy="287.1" r="1.5" fill="#000"/>
<circle cx="414.2" cy="282.5" r="1.5" fill="#000"/>
<circle cx="459.3" cy="246.8" r="1.5" fill="url(#gg)"/>
<circle cx="446.9" cy="327.2" r="1.5" fill="url(#rg)"/>
<circle cx="436.1" cy="207.2" r="1.5" fill="url(#gg)"/>
<circle cx="441.7" cy="328.3" r="1.5" fill="url(#rg)"/>
<circle cx="427.5" cy="243.0" r="1.5" fill="url(#gg)"/>
<circle cx="459.8" cy="305.8" r="1.5" fill="url(#rg)"/>
<circle cx="472.1" cy="294.9" r="1.5" fill="#000"/>
<circle cx="421.8" cy="288.7" r="1.5" fill="#000"/>
<circle cx="415.7" cy="255.9" r="1.5" fill="url(#gg)"/>
<circle cx="418.7" cy="280.0" r="1.5" fill="#000"/>
<circle cx="473.9" cy="297.5" r="1.5" fill="url(#rg)"/>
<circle cx="456.3" cy="285.8" r="1.5" fill="#000"/>
<circle cx="453.6" cy="288.3" r="1.5" fill="#000"/>
<circle cx="469.8" cy="223.3" r="1.5" fill="url(#gg)"/>
<circle cx="459.5" cy="282.6" r="1.5" fill="#000"/>
<circle cx="437.0" cy="279.9" r="1.5" fill="#000"/>
<circle cx="418.7" cy="288.4" r="1.5" fill="#000"/>
<circle cx="458.3" cy="282.4" r="1.5" fill="#000"/>
<circle cx="430.0" cy="279.8" r="1.5" fill="#000"/>
<circle cx="461.8" cy="282.4" r="1.5" fill="#000"/>
<circle cx="416.7" cy="330.6" r="1.5" fill="url(#rg)"/>
<circle cx="455.2" cy="272.5" r="1.5" fill="#000"/>
<circle cx="427.3" cy="285.0" r="1.5" fill="#000"/>
<circle cx="465.8" cy="319.7" r="1.5" fill="url(#rg)"/>
<circle cx="430.9" cy="295.0" r="1.5" fill="#000"/>
<circle cx="432.9" cy="282.9" r="1.5" fill="#000"/>
<circle cx="468.9" cy="281.9" r="1.5" fill="#000"/>
<circle cx="446.7" cy="289.6" r="1.5" fill="#000"/>
<circle cx="431.2" cy="347.7" r="1.5" fill="url(#rg)"/>
<circle cx="479.0" cy="190.9" r="1.5" fill="url(#gg)"/>
<circle cx="437.4" cy="279.1" r="1.5" fill="#000"/>
<circle cx="434.3" cy="283.8" r="1.5" fill="#000"/>
<circle cx="464.0" cy="267.3" r="1.5" fill="#000"/>
<circle cx="417.1" cy="270.2" r="1.5" fill="#000"/>
<circle cx="430.8" cy="282.0" r="1.5" fill="#000"/>
<circle cx="432.6" cy="222.4" r="1.5" fill="url(#gg)"/>
<circle cx="455.2" cy="270.5" r="1.5" fill="#000"/>
<circle cx="421.5" cy="274.0" r="1.5" fill="#000"/>
<circle cx="473.7" cy="382.4" r="1.5" fill="url(#rg)"/>
<circle cx="478.3" cy="288.2" r="1.5" fill="#000"/>
<circle cx="417.7" cy="167.1" r="1.5" fill="url(#gg)"/>
<circle cx="441.3" cy="293.9" r="1.5" fill="#000"/>
<circle cx="472.2" cy="278.5" r="1.5" fill="#000"/>
<circle cx="437.2" cy="276.0" r="1.5" fill="#000"/>
<circle cx="454.2" cy="245.5" r="1.5" fill="url(#gg)"/>
<circle cx="470.4" cy="302.5" r="1.5" fill="url(#rg)"/>
<circle cx="427.2" cy="277.9" r="1.5" fill="#000"/>
<circle cx="454.9" cy="204.4" r="1.5" fill="url(#gg)"/>
<circle cx="465.0" cy="284.8" r="1.5" fill="#000"/>
<circle cx="444.5" cy="275.4" r="1.5" fill="#000"/>
<circle cx="450.2" cy="288.7" r="1.5" fill="#000"/>
<circle cx="428.9" cy="286.4" r="1.5" fill="#000"/>
<circle cx="468.1" cy="281.4" r="1.5" fill="#000"/>
<circle cx="471.2" cy="294.4" r="1.5" fill="url(#rg)"/>
<circle cx="454.2" cy="277.9" r="1.5" fill="#000"/>
<circle cx="541.8" cy="344.5" r="1.5" fill="url(#rg)"/>
<circle cx="560.4" cy="179.5" r="1.5" fill="url(#gg)"/>
<circle cx="506.9" cy="287.8" r="1.5" fill="#000"/>
<circle cx="515.0" cy="294.0" r="1.5" fill="#000"/>
<circle cx="521.8" cy="313.8" r="1.5" fill="url(#rg)"/>
<circle cx="533.9" cy="289.4" r="1.5" fill="#000"/>
<circle cx="543.2" cy="348.2" r="1.5" fill="url(#rg)"/>
<circle cx="560.2" cy="294.9" r="1.5" fill="#000"/>
<circle cx="499.7" cy="318.7" r="1.5" fill="url(#rg)"/>
<circle cx="508.5" cy="288.1" r="1.5" fill="#000"/>
<circle cx="521.6" cy="280.5" r="1.5" fill="#000"/>
<circle cx="539.8" cy="233.0" r="1.5" fill="url(#gg)"/>
<circle cx="558.7" cy="285.4" r="1.5" fill="#000"/>
<circle cx="540.6" cy="269.6" r="1.5" fill="#000"/>
<circle cx="514.0" cy="340.7" r="1.5" fill="url(#rg)"/>
<circle cx="526.1" cy="278.1" r="1.5" fill="#000"/>
<circle cx="536.9" cy="335.9" r="1.5" fill="url(#rg)"/>
<circle cx="514.6" cy="333.0" r="1.5" fill="url(#rg)"/>
<circle cx="528.9" cy="272.7" r="1.5" fill="#000"/>
<circle cx="536.1" cy="328.7" r="1.5" fill="url(#rg)"/>
<circle cx="500.4" cy="270.6" r="1.5" fill="#000"/>
<circle cx="523.2" cy="262.5" r="1.5" fill="url(#gg)"/>
<circle cx="522.8" cy="290.3" r="1.5" fill="#000"/>
<circle cx="553.3" cy="343.0" r="1.5" fill="url(#rg)"/>
<circle cx="524.4" cy="284.1" r="1.5" fill="#000"/>
<circle cx="551.0" cy="279.6" r="1.5" fill="#000"/>
<circle cx="521.0" cy="263.1" r="1.5" fill="#000"/>
<circle cx="535.6" cy="286.9" r="1.5" fill="#000"/>
<circle cx="551.7" cy="287.4" r="1.5" fill="#000"/>
<circle cx="551.8" cy="288.4" r="1.5" fill="#000"/>
<circle cx="512.3" cy="235.3" r="1.5" fill="url(#gg)"/>
<circle cx="533.2" cy="169.4" r="1.5" fill="url(#gg)"/>
<circle cx="500.3" cy="229.0" r="1.5" fill="url(#gg)"/>
<circle cx="504.6" cy="374.0" r="1.5" fill="url(#rg)"/>
<circle cx="556.7" cy="281.1" r="1.5" fill="#000"/>
<circle cx="522.6" cy="322.4" r="1.5" fill="url(#rg)"/>
<circle cx="510.6" cy="281.4" r="1.5" fill="#000"/>
<circle cx="560.4" cy="323.0" r="1.5" fill="url(#rg)"/>
<circle cx="500.3" cy="331.0" r="1.5" fill="url(#rg)"/>
<circle cx="498.2" cy="279.5" r="1.5" fill="#000"/>
<circle cx="507.4" cy="285.9" r="1.5" fill="#000"/>
<circle cx="549.0" cy="319.5" r="1.5" fill="url(#rg)"/>
<circle cx="497.4" cy="299.5" r="1.5" fill="url(#rg)"/>
<circle cx="559.0" cy="261.1" r="1.5" fill="url(#gg)"/>
<circle cx="539.8" cy="242.5" r="1.5" fill="url(#gg)"/>
<circle cx="519.6" cy="292.0" r="1.5" fill="#000"/>
<circle cx="554.7" cy="330.1" r="1.5" fill="url(#rg)"/>
<circle cx="553.3" cy="256.8" r="1.5" fill="url(#gg)"/>
<circle cx="551.9" cy="273.9" r="1.5" fill="#000"/>
<circle cx="559.0" cy="348.8" r="1.5" fill="url(#rg)"/>
<circle cx="516.9" cy="374.5" r="1.5" fill="url(#rg)"/>
<circle cx="519.8" cy="276.3" r="1.5" fill="#000"/>
<circle cx="549.2" cy="290.9" r="1.5" fill="#000"/>
<circle cx="536.9" cy="324.4" r="1.5" fill="url(#rg)"/>
<circle cx="556.9" cy="291.1" r="1.5" fill="#000"/>
<circle cx="498.9" cy="306.4" r="1.5" fill="url(#rg)"/>
<circle cx="561.8" cy="171.7" r="1.5" fill="url(#gg)"/>
<circle cx="514.6" cy="284.0" r="1.5" fill="#000"/>
<circle cx="513.2" cy="244.5" r="1.5" fill="url(#gg)"/>
<circle cx="557.5" cy="292.2" r="1.5" fill="#000"/>
<circle cx="546.7" cy="247.3" r="1.5" fill="url(#gg)"/>
<circle cx="550.9" cy="283.5" r="1.5" fill="#000"/>
<circle cx="537.5" cy="332.1" r="1.5" fill="url(#rg)"/>
<circle cx="517.5" cy="312.9" r="1.5" fill="url(#rg)"/>
<circle cx="530.4" cy="300.1" r="1.5" fill="url(#rg)"/>
<circle cx="543.1" cy="282.4" r="1.5" fill="#000"/>
<circle cx="514.0" cy="275.4" r="1.5" fill="#000"/>
<circle cx="518.1" cy="292.4" r="1.5" fill="#000"/>
<circle cx="541.4" cy="260.5" r="1.5" fill="url(#gg)"/>
<circle cx="561.0" cy="334.4" r="1.5" fill="url(#rg)"/>
<circle cx="514.6" cy="297.8" r="1.5" fill="url(#rg)"/>
<circle cx="506.0" cy="251.9" r="1.5" fill="url(#gg)"/>
<circle cx="524.6" cy="230.2" r="1.5" fill="url(#gg)"/>
<circle cx="536.1" cy="235.3" r="1.5" fill="url(#gg)"/>
<circle cx="531.3" cy="286.4" r="1.5" fill="#000"/>
<circle cx="545.9" cy="287.4" r="1.5" fill="#000"/>
<circle cx="515.5" cy="269.4" r="1.5" fill="#000"/>
<circle cx="544.7" cy="258.2" r="1.5" fill="url(#gg)"/>
<circle cx="503.4" cy="269.3" r="1.5" fill="#000"/>
<circle cx="547.9" cy="274.1" r="1.5" fill="#000"/>
<circle cx="540.8" cy="288.4" r="1.5" fill="#000"/>
<circle cx="526.1" cy="252.5" r="1.5" fill="url(#gg)"/>
<circle cx="513.2" cy="320.1" r="1.5" fill="url(#rg)"/>
<circle cx="554.1" cy="231.0" r="1.5" fill="url(#gg)"/>
<circle cx="529.4" cy="282.7" r="1.5" fill="#000"/>
<circle cx="499.2" cy="278.9" r="1.5" fill="#000"/>
<circle cx="544.8" cy="277.7" r="1.5" fill="#000"/>
<circle cx="498.0" cy="217.6" r="1.5" fill="url(#gg)"/>
<circle cx="513.2" cy="326.4" r="1.5" fill="url(#rg)"/>
<circle cx="514.9" cy="288.4" r="1.5" fill="#000"/>
<circle cx="524.3" cy="270.9" r="1.5" fill="#000"/>
<circle cx="532.6" cy="291.0" r="1.5" fill="#000"/>
<circle cx="498.9" cy="273.7" r="1.5" fill="#000"/>
<circle cx="526.1" cy="299.5" r="1.5" fill="url(#rg)"/>
<circle cx="536.6" cy="265.4" r="1.5" fill="#000"/>
<circle cx="511.2" cy="261.7" r="1.5" fill="url(#gg)"/>
<circle cx="523.5" cy="275.7" r="1.5" fill="#000"/>
<circle cx="512.3" cy="237.6" r="1.5" fill="url(#gg)"/>
<circle cx="525.5" cy="226.7" r="1.5" fill="url(#gg)"/>
<circle cx="534.1" cy="221.0" r="1.5" fill="url(#gg)"/>
<circle cx="503.8" cy="270.9" r="1.5" fill="#000"/>
<circle cx="533.1" cy="289.1" r="1.5" fill="#000"/>
<circle cx="508.3" cy="297.8" r="1.5" fill="url(#rg)"/>
<circle cx="546.8" cy="280.5" r="1.5" fill="#000"/>
<circle cx="533.4" cy="287.6" r="1.5" fill="#000"/>
<circle cx="499.7" cy="365.4" r="1.5" fill="url(#rg)"/>
<circle cx="526.7" cy="285.7" r="1.5" fill="#000"/>
<circle cx="541.6" cy="282.9" r="1.5" fill="#000"/>
<circle cx="545.5" cy="232.4" r="1.5" fill="url(#gg)"/>
<circle cx="506.0" cy="135.1" r="1.5" fill="url(#gg)"/>
<circle cx="553.9" cy="276.9" r="1.5" fill="#000"/>
<circle cx="536.8" cy="276.1" r="1.5" fill="#000"/>
<circle cx="516.8" cy="260.9" r="1.5" fill="url(#gg)"/>
<circle cx="512.3" cy="351.0" r="1.5" fill="url(#rg)"/>
<circle cx="544.7" cy="340.7" r="1.5" fill="url(#rg)"/>
<circle cx="506.6" cy="387.4" r="1.5" fill="url(#rg)"/>
<circle cx="505.5" cy="354.5" r="1.5" fill="url(#rg)"/>
<circle cx="531.8" cy="253.1" r="1.5" fill="url(#gg)"/>
<circle cx="539.2" cy="281.3" r="1.5" fill="#000"/>
<circle cx="530.9" cy="275.9" r="1.5" fill="#000"/>
<circle cx="534.8" cy="280.7" r="1.5" fill="#000"/>
<circle cx="546.2" cy="286.3" r="1.5" fill="#000"/>
<circle cx="561.0" cy="262.5" r="1.5" fill="url(#gg)"/>
<circle cx="504.6" cy="371.1" r="1.5" fill="url(#rg)"/>
<circle cx="514.3" cy="267.7" r="1.5" fill="#000"/>
<circle cx="506.6" cy="243.9" r="1.5" fill="url(#gg)"/>
<circle cx="533.8" cy="284.5" r="1.5" fill="#000"/>
<circle cx="553.5" cy="265.0" r="1.5" fill="#000"/>
<circle cx="558.1" cy="405.2" r="1.5" fill="url(#rg)"/>
<circle cx="551.3" cy="312.1" r="1.5" fill="url(#rg)"/>
<circle cx="516.9" cy="331.6" r="1.5" fill="url(#rg)"/>
<circle cx="498.9" cy="302.3" r="1.5" fill="url(#rg)"/>
<circle cx="559.4" cy="283.6" r="1.5" fill="#000"/>
<circle cx="531.0" cy="293.9" r="1.5" fill="#000"/>
<circle cx="538.9" cy="299.5" r="1.5" fill="url(#rg)"/>
<circle cx="522.6" cy="364.5" r="1.5" fill="url(#rg)"/>
<circle cx="514.0" cy="306.4" r="1.5" fill="url(#rg)"/>
<circle cx="545.5" cy="354.5" r="1.5" fill="url(#rg)"/>
<circle cx="547.1" cy="275.1" r="1.5" fill="#000"/>
<circle cx="521.7" cy="287.6" r="1.5" fill="#000"/>
<circle cx="550.4" cy="314.9" r="1.5" fill="url(#rg)"/>
<circle cx="554.3" cy="276.1" r="1.5" fill="#000"/>
<circle cx="527.0" cy="291.4" r="1.5" fill="#000"/>
<circle cx="536.9" cy="253.9" r="1.5" fill="url(#gg)"/>
<circle cx="531.0" cy="277.3" r="1.5" fill="#000"/>
<circle cx="549.0" cy="279.4" r="1.5" fill="#000"/>
<circle cx="513.9" cy="293.1" r="1.5" fill="#000"/>
<circle cx="561.0" cy="200.9" r="1.5" fill="url(#gg)"/>
<circle cx="504.6" cy="298.6" r="1.5" fill="url(#rg)"/>
<circle cx="557.5" cy="301.5" r="1.5" fill="url(#rg)"/>
<circle cx="504.0" cy="283.4" r="1.5" fill="#000"/>
<circle cx="506.9" cy="289.5" r="1.5" fill="#000"/>
<circle cx="500.1" cy="288.3" r="1.5" fill="#000"/>
<circle cx="556.9" cy="285.2" r="1.5" fill="#000"/>
<circle cx="505.4" cy="274.6" r="1.5" fill="#000"/>
<circle cx="538.9" cy="325.3" r="1.5" fill="url(#rg)"/>
<circle cx="547.6" cy="281.0" r="1.5" fill="#000"/>
<circle cx="523.2" cy="209.0" r="1.5" fill="url(#gg)"/>
<circle cx="498.0" cy="243.3" r="1.5" fill="url(#gg)"/>
<circle cx="498.0" cy="258.7" r="1.5" fill="url(#gg)"/>
<circle cx="558.7" cy="281.9" r="1.5" fill="#000"/>
<circle cx="542.8" cy="271.1" r="1.5" fill="#000"/>
<circle cx="555.6" cy="273.8" r="1.5" fill="#000"/>
<circle cx="532.4" cy="342.4" r="1.5" fill="url(#rg)"/>
<circle cx="531.3" cy="294.2" r="1.5" fill="#000"/>
<circle cx="530.0" cy="282.6" r="1.5" fill="#000"/>
<circle cx="542.7" cy="208.1" r="1.5" fill="url(#gg)"/>
<circle cx="502.9" cy="258.5" r="1.5" fill="url(#gg)"/>
<circle cx="549.9" cy="285.7" r="1.5" fill="#000"/>
<circle cx="514.6" cy="310.1" r="1.5" fill="url(#rg)"/>
<circle cx="500.9" cy="300.6" r="1.5" fill="url(#rg)"/>
<circle cx="526.1" cy="373.1" r="1.5" fill="url(#rg)"/>
<circle cx="528.8" cy="279.3" r="1.5" fill="#000"/>
<circle cx="538.1" cy="258.2" r="1.5" fill="url(#gg)"/>
<circle cx="497.1" cy="266.6" r="1.5" fill="#000"/>
<circle cx="544.6" cy="283.9" r="1.5" fill="#000"/>
<circle cx="496.8" cy="277.0" r="1.5" fill="#000"/>
<circle cx="517.5" cy="258.2" r="1.5" fill="url(#gg)"/>
<circle cx="535.2" cy="257.7" r="1.5" fill="url(#gg)"/>
<circle cx="509.5" cy="149.4" r="1.5" fill="url(#gg)"/>
<circle cx="511.5" cy="272.1" r="1.5" fill="#000"/>
<circle cx="550.8" cy="295.0" r="1.5" fill="#000"/>
<circle cx="536.3" cy="286.3" r="1.5" fill="#000"/>
<circle cx="502.4" cy="286.8" r="1.5" fill="#000"/>
<circle cx="582.5" cy="276.4" r="1.5" fill="#000"/>
<circle cx="639.0" cy="241.0" r="1.5" fill="url(#gg)"/>
<circle cx="609.7" cy="262.3" r="1.5" fill="url(#gg)"/>
<circle cx="581.4" cy="293.9" r="1.5" fill="#000"/>
<circle cx="589.5" cy="267.4" r="1.5" fill="#000"/>
<circle cx="595.3" cy="301.2" r="1.5" fill="url(#rg)"/>
<circle cx="619.7" cy="372.5" r="1.5" fill="url(#rg)"/>
<circle cx="589.3" cy="282.2" r="1.5" fill="#000"/>
<circle cx="585.9" cy="258.5" r="1.5" fill="url(#gg)"/>
<circle cx="584.3" cy="280.1" r="1.5" fill="#000"/>
<circle cx="623.2" cy="275.7" r="1.5" fill="#000"/>
<circle cx="598.9" cy="262.2" r="1.5" fill="url(#gg)"/>
<circle cx="621.6" cy="272.0" r="1.5" fill="#000"/>
<circle cx="579.0" cy="272.1" r="1.5" fill="#000"/>
<circle cx="591.6" cy="305.3" r="1.5" fill="url(#rg)"/>
<circle cx="602.5" cy="363.8" r="1.5" fill="url(#rg)"/>
<circle cx="591.8" cy="273.1" r="1.5" fill="#000"/>
<circle cx="622.9" cy="254.8" r="1.5" fill="url(#gg)"/>
<circle cx="585.7" cy="238.8" r="1.5" fill="url(#gg)"/>
<circle cx="625.8" cy="259.7" r="1.5" fill="url(#gg)"/>
<circle cx="638.1" cy="258.2" r="1.5" fill="url(#gg)"/>
<circle cx="596.6" cy="235.9" r="1.5" fill="url(#gg)"/>
<circle cx="597.8" cy="270.1" r="1.5" fill="#000"/>
<circle cx="586.9" cy="314.7" r="1.5" fill="url(#rg)"/>
<circle cx="633.8" cy="231.9" r="1.5" fill="url(#gg)"/>
<circle cx="584.5" cy="280.3" r="1.5" fill="#000"/>
<circle cx="603.8" cy="241.0" r="1.5" fill="url(#gg)"/>
<circle cx="626.9" cy="269.3" r="1.5" fill="#000"/>
<circle cx="638.2" cy="285.7" r="1.5" fill="#000"/>
<circle cx="629.8" cy="264.0" r="1.5" fill="#000"/>
<circle cx="615.5" cy="276.3" r="1.5" fill="#000"/>
<circle cx="643.0" cy="257.1" r="1.5" fill="url(#gg)"/>
<circle cx="598.0" cy="281.1" r="1.5" fill="#000"/>
<circle cx="620.7" cy="269.2" r="1.5" fill="#000"/>
<circle cx="634.0" cy="271.9" r="1.5" fill="#000"/>
<circle cx="594.4" cy="289.8" r="1.5" fill="#000"/>
<circle cx="613.0" cy="286.0" r="1.5" fill="#000"/>
<circle cx="590.0" cy="300.6" r="1.5" fill="url(#rg)"/>
<circle cx="618.9" cy="258.8" r="1.5" fill="url(#gg)"/>
<circle cx="592.0" cy="271.3" r="1.5" fill="#000"/>
<circle cx="615.0" cy="272.4" r="1.5" fill="#000"/>
<circle cx="585.4" cy="266.4" r="1.5" fill="#000"/>
<circle cx="606.9" cy="281.2" r="1.5" fill="#000"/>
<circle cx="636.2" cy="327.2" r="1.5" fill="url(#rg)"/>
<circle cx="586.2" cy="320.9" r="1.5" fill="url(#rg)"/>
<circle cx="624.8" cy="267.5" r="1.5" fill="#000"/>
<circle cx="628.1" cy="255.9" r="1.5" fill="url(#gg)"/>
<circle cx="612.4" cy="275.4" r="1.5" fill="#000"/>
<circle cx="629.5" cy="247.3" r="1.5" fill="url(#gg)"/>
<circle cx="590.3" cy="238.8" r="1.5" fill="url(#gg)"/>
<circle cx="578.7" cy="278.9" r="1.5" fill="#000"/>
<circle cx="641.5" cy="281.7" r="1.5" fill="#000"/>
<circle cx="605.6" cy="371.9" r="1.5" fill="url(#rg)"/>
<circle cx="640.0" cy="267.2" r="1.5" fill="#000"/>
<circle cx="596.0" cy="278.0" r="1.5" fill="#000"/>
<circle cx="620.9" cy="266.1" r="1.5" fill="#000"/>
<circle cx="605.6" cy="303.8" r="1.5" fill="url(#rg)"/>
<circle cx="627.5" cy="293.1" r="1.5" fill="#000"/>
<circle cx="583.7" cy="239.6" r="1.5" fill="url(#gg)"/>
<circle cx="585.5" cy="271.6" r="1.5" fill="#000"/>
<circle cx="579.1" cy="274.7" r="1.5" fill="#000"/>
<circle cx="621.2" cy="332.5" r="1.5" fill="url(#rg)"/>
<circle cx="592.3" cy="198.9" r="1.5" fill="url(#gg)"/>
<circle cx="593.1" cy="353.8" r="1.5" fill="url(#rg)"/>
<circle cx="636.7" cy="259.7" r="1.5" fill="url(#gg)"/>
<circle cx="594.7" cy="289.0" r="1.5" fill="#000"/>
<circle cx="634.4" cy="292.8" r="1.5" fill="#000"/>
<circle cx="595.2" cy="251.1" r="1.5" fill="url(#gg)"/>
<circle cx="601.8" cy="273.6" r="1.5" fill="#000"/>
<circle cx="598.1" cy="250.2" r="1.5" fill="url(#gg)"/>
<circle cx="596.9" cy="276.1" r="1.5" fill="#000"/>
<circle cx="593.8" cy="240.5" r="1.5" fill="url(#gg)"/>
<circle cx="590.5" cy="282.0" r="1.5" fill="#000"/>
<circle cx="622.8" cy="320.9" r="1.5" fill="url(#rg)"/>
<circle cx="636.7" cy="233.0" r="1.5" fill="url(#gg)"/>
<circle cx="635.3" cy="242.5" r="1.5" fill="url(#gg)"/>
<circle cx="638.1" cy="266.4" r="1.5" fill="#000"/>
<circle cx="638.5" cy="273.0" r="1.5" fill="#000"/>
<circle cx="633.0" cy="269.3" r="1.5" fill="#000"/>
<circle cx="604.6" cy="247.3" r="1.5" fill="url(#gg)"/>
<circle cx="620.2" cy="266.3" r="1.5" fill="#000"/>
<circle cx="582.5" cy="279.7" r="1.5" fill="#000"/>
<circle cx="587.2" cy="285.1" r="1.5" fill="#000"/>
<circle cx="640.0" cy="326.6" r="1.5" fill="url(#rg)"/>
<circle cx="640.1" cy="212.4" r="1.5" fill="url(#gg)"/>
<circle cx="580.1" cy="285.0" r="1.5" fill="#000"/>
<circle cx="585.3" cy="295.9" r="1.5" fill="url(#rg)"/>
<circle cx="607.2" cy="268.5" r="1.5" fill="#000"/>
<circle cx="632.4" cy="255.4" r="1.5" fill="url(#gg)"/>
<circle cx="636.7" cy="227.3" r="1.5" fill="url(#gg)"/>
<circle cx="619.7" cy="338.1" r="1.5" fill="url(#rg)"/>
<circle cx="643.3" cy="273.9" r="1.5" fill="#000"/>
<circle cx="611.9" cy="263.0" r="1.5" fill="url(#gg)"/>
<circle cx="595.5" cy="274.4" r="1.5" fill="#000"/>
<circle cx="596.8" cy="275.1" r="1.5" fill="#000"/>
<circle cx="592.8" cy="287.0" r="1.5" fill="#000"/>
<circle cx="620.9" cy="241.0" r="1.5" fill="url(#gg)"/>
<circle cx="617.5" cy="388.1" r="1.5" fill="url(#rg)"/>
<circle cx="596.6" cy="251.9" r="1.5" fill="url(#gg)"/>
<circle cx="595.2" cy="274.0" r="1.5" fill="#000"/>
<circle cx="578.8" cy="260.1" r="1.5" fill="url(#gg)"/>
<circle cx="605.2" cy="276.4" r="1.5" fill="#000"/>
<circle cx="628.5" cy="291.4" r="1.5" fill="#000"/>
<circle cx="623.4" cy="279.0" r="1.5" fill="#000"/>
<circle cx="604.1" cy="313.1" r="1.5" fill="url(#rg)"/>
<circle cx="604.6" cy="217.6" r="1.5" fill="url(#gg)"/>
<circle cx="610.5" cy="271.3" r="1.5" fill="#000"/>
<circle cx="590.8" cy="264.4" r="1.5" fill="#000"/>
<circle cx="623.5" cy="275.1" r="1.5" fill="#000"/>
<circle cx="634.8" cy="276.4" r="1.5" fill="#000"/>
<circle cx="614.5" cy="271.1" r="1.5" fill="#000"/>
<circle cx="608.6" cy="245.3" r="1.5" fill="url(#gg)"/>
<circle cx="623.7" cy="282.7" r="1.5" fill="#000"/>
<circle cx="628.9" cy="282.9" r="1.5" fill="#000"/>
<circle cx="625.9" cy="267.5" r="1.5" fill="#000"/>
<circle cx="631.2" cy="300.6" r="1.5" fill="url(#rg)"/>
<circle cx="620.3" cy="276.8" r="1.5" fill="#000"/>
<circle cx="590.9" cy="185.2" r="1.5" fill="url(#gg)"/>
<circle cx="613.4" cy="265.5" r="1.5" fill="#000"/>
<circle cx="625.1" cy="276.2" r="1.5" fill="#000"/>
<circle cx="635.3" cy="302.2" r="1.5" fill="url(#rg)"/>
<circle cx="585.7" cy="223.0" r="1.5" fill="url(#gg)"/>
<circle cx="623.4" cy="275.4" r="1.5" fill="#000"/>
<circle cx="613.3" cy="281.6" r="1.5" fill="#000"/>
<circle cx="587.5" cy="278.4" r="1.5" fill="#000"/>
<circle cx="643.8" cy="233.0" r="1.5" fill="url(#gg)"/>
<circle cx="598.7" cy="264.6" r="1.5" fill="#000"/>
<circle cx="607.2" cy="298.1" r="1.5" fill="url(#rg)"/>
<circle cx="634.2" cy="272.1" r="1.5" fill="#000"/>
<circle cx="626.7" cy="237.6" r="1.5" fill="url(#gg)"/>
<circle cx="633.8" cy="252.5" r="1.5" fill="url(#gg)"/>
<circle cx="589.5" cy="185.2" r="1.5" fill="url(#gg)"/>
<circle cx="613.8" cy="253.9" r="1.5" fill="url(#gg)"/>
<circle cx="621.6" cy="261.4" r="1.5" fill="url(#gg)"/>
<circle cx="607.2" cy="360.0" r="1.5" fill="url(#rg)"/>
<circle cx="616.7" cy="243.9" r="1.5" fill="url(#gg)"/>
<circle cx="638.7" cy="271.5" r="1.5" fill="#000"/>
<circle cx="608.0" cy="284.6" r="1.5" fill="#000"/>
<circle cx="617.3" cy="286.8" r="1.5" fill="#000"/>
<circle cx="626.2" cy="284.0" r="1.5" fill="#000"/>
<circle cx="643.0" cy="223.3" r="1.5" fill="url(#gg)"/>
<circle cx="639.3" cy="276.9" r="1.5" fill="#000"/>
<circle cx="607.3" cy="287.4" r="1.5" fill="#000"/>
<circle cx="584.2" cy="268.4" r="1.5" fill="#000"/>
<circle cx="580.0" cy="271.8" r="1.5" fill="#000"/>
<circle cx="584.6" cy="274.6" r="1.5" fill="#000"/>
<circle cx="637.5" cy="331.9" r="1.5" fill="url(#rg)"/>
<circle cx="598.1" cy="241.0" r="1.5" fill="url(#gg)"/>
<circle cx="602.1" cy="273.5" r="1.5" fill="#000"/>
<circle cx="633.9" cy="272.6" r="1.5" fill="#000"/>
<circle cx="630.8" cy="281.2" r="1.5" fill="#000"/>
<circle cx="606.6" cy="246.8" r="1.5" fill="url(#gg)"/>
<circle cx="579.5" cy="268.3" r="1.5" fill="#000"/>
<circle cx="601.8" cy="249.6" r="1.5" fill="url(#gg)"/>
<circle cx="619.7" cy="304.4" r="1.5" fill="url(#rg)"/>
<circle cx="604.8" cy="281.9" r="1.5" fill="#000"/>
<circle cx="621.4" cy="270.8" r="1.5" fill="#000"/>
<circle cx="585.5" cy="278.7" r="1.5" fill="#000"/>
<circle cx="607.8" cy="271.6" r="1.5" fill="#000"/>
<circle cx="589.9" cy="292.8" r="1.5" fill="#000"/>
<circle cx="593.2" cy="268.1" r="1.5" fill="#000"/>
<circle cx="582.9" cy="220.1" r="1.5" fill="url(#gg)"/>
<circle cx="627.5" cy="281.0" r="1.5" fill="#000"/>
<circle cx="583.0" cy="290.1" r="1.5" fill="#000"/>
<circle cx="606.8" cy="269.5" r="1.5" fill="#000"/>
<circle cx="624.4" cy="308.4" r="1.5" fill="url(#rg)"/>
<circle cx="632.4" cy="246.8" r="1.5" fill="url(#gg)"/>
<circle cx="616.6" cy="278.4" r="1.5" fill="#000"/>
<circle cx="640.6" cy="331.2" r="1.5" fill="url(#rg)"/>
<circle cx="615.2" cy="255.4" r="1.5" fill="url(#gg)"/>
<circle cx="625.1" cy="295.1" r="1.5" fill="#000"/>
<circle cx="594.3" cy="255.4" r="1.5" fill="url(#gg)"/>
<line x1="66.6" x2="69.4" y1="122.45" y2="122.45" stroke="#4d4d4d" stroke-width="1"/>
<text x="65.2" y="125.35" text-anchor="end" class="tk">10</text>
<line x1="66.6" x2="69.4" y1="200.60" y2="200.60" stroke="#4d4d4d" stroke-width="1"/>
<text x="65.2" y="203.50" text-anchor="end" class="tk">5</text>
<line x1="66.6" x2="69.4" y1="278.75" y2="278.75" stroke="#4d4d4d" stroke-width="1"/>
<text x="65.2" y="281.65" text-anchor="end" class="tk">0</text>
<line x1="66.6" x2="69.4" y1="356.90" y2="356.90" stroke="#4d4d4d" stroke-width="1"/>
<text x="65.2" y="359.80" text-anchor="end" class="tk">-5</text>
<line x1="66.6" x2="69.4" y1="435.05" y2="435.05" stroke="#4d4d4d" stroke-width="1"/>
<text x="65.2" y="437.95" text-anchor="end" class="tk">-10</text>
<line x1="118.60" x2="118.60" y1="443" y2="446.5" stroke="#4d4d4d" stroke-width="1"/>
<text transform="translate(95.99,462.5) scale(1.0073,1)" class="xl">Cicer</text>
<text transform="translate(82.70,484.8) scale(1.0250,1)" class="xl">arietinum</text>
<line x1="200.65" x2="200.65" y1="443" y2="446.5" stroke="#4d4d4d" stroke-width="1"/>
<text transform="translate(166.59,462.5) scale(1.0052,1)" class="xl">Glycine</text>
<text transform="translate(182.60,484.8) scale(0.9471,1)" class="xl">max</text>
<line x1="282.70" x2="282.70" y1="443" y2="446.5" stroke="#4d4d4d" stroke-width="1"/>
<text transform="translate(246.89,462.5) scale(1.0090,1)" class="xl">Lathyrus</text>
<text transform="translate(254.50,484.8) scale(1.0091,1)" class="xl">sativus</text>
<line x1="364.75" x2="364.75" y1="443" y2="446.5" stroke="#4d4d4d" stroke-width="1"/>
<text transform="translate(341.58,462.5) scale(1.0216,1)" class="xl">Lens</text>
<text transform="translate(330.58,484.8) scale(1.0156,1)" class="xl">culinaris</text>
<line x1="446.80" x2="446.80" y1="443" y2="446.5" stroke="#4d4d4d" stroke-width="1"/>
<text transform="translate(404.19,462.5) scale(1.0105,1)" class="xl">Medicago</text>
<text transform="translate(406.49,484.8) scale(1.0053,1)" class="xl">truncatula</text>
<line x1="528.85" x2="528.85" y1="443" y2="446.5" stroke="#4d4d4d" stroke-width="1"/>
<text transform="translate(488.98,462.5) scale(1.0171,1)" class="xl">Phaseolus</text>
<text transform="translate(501.52,484.8) scale(0.9783,1)" class="xl">vulgaris</text>
<line x1="610.90" x2="610.90" y1="443" y2="446.5" stroke="#4d4d4d" stroke-width="1"/>
<text transform="translate(587.08,462.5) scale(1.0229,1)" class="xl">Pisum</text>
<text transform="translate(582.90,484.8) scale(0.9967,1)" class="xl">sativum</text>
<rect x="671.2" y="152" width="5.8" height="114" fill="#45861d"/>
<polygon points="674.1,130.5 682,155 666.5,155" fill="#45861d"/>
<rect x="671.3" y="292.5" width="5.2" height="111" fill="#d35400"/>
<polygon points="673.9,426 681.2,402 666.4,402" fill="#d35400"/>
<text transform="translate(73.15,100.3) scale(1.0695,1)" class="ti">(v) Study NLR expression dynamics in leaves and roots</text>
<text transform="translate(40.3,355.3) rotate(-90) scale(1.01,1)" class="yt">log<tspan font-size="13.5" font-weight="normal" dy="4.5">2</tspan><tspan dy="-4.5"> Fold change</tspan></text>
<g transform="translate(680,178) scale(0.099)" fill="none" stroke-linejoin="round" stroke-linecap="round"><path d="M155 72 C230 85 298 150 295 210 C292 248 272 266 252 268 C205 265 168 232 158 175 C150 130 150 95 155 72 Z M255 268 C285 310 315 360 325 400 L328 500 M325 400 C350 385 372 372 395 362 M52 372 C90 328 150 308 200 314 C240 320 260 338 275 345 C240 372 200 398 150 406 C105 412 70 395 52 372 Z M392 380 C374 305 395 232 470 195 C540 168 630 162 705 172 C688 245 645 322 580 378 C522 425 442 432 392 380 Z M410 372 L600 240 M512 228 L527 268 M478 318 L538 350" stroke="#2f7d3c" stroke-width="48"/><path d="M155 72 C230 85 298 150 295 210 C292 248 272 266 252 268 C205 265 168 232 158 175 C150 130 150 95 155 72 Z M255 268 C285 310 315 360 325 400 L328 500 M325 400 C350 385 372 372 395 362 M52 372 C90 328 150 308 200 314 C240 320 260 338 275 345 C240 372 200 398 150 406 C105 412 70 395 52 372 Z M392 380 C374 305 395 232 470 195 C540 168 630 162 705 172 C688 245 645 322 580 378 C522 425 442 432 392 380 Z M410 372 L600 240 M512 228 L527 268 M478 318 L538 350" stroke="#b5dcbc" stroke-width="14"/></g>
<g transform="translate(682,312) scale(0.0912)" fill="none" stroke-linejoin="round"><path d="M377.0 88.0 L377.0 150.0 L300.0 215.0 L68.0 458.0 M300.0 208.0 L170.0 182.0 M195.0 365.0 L228.0 462.0 M380.0 150.0 L470.0 285.0 L632.0 438.0 M470.0 290.0 L430.0 385.0 M565.0 335.0 L688.0 302.0" stroke="#d9560f" stroke-width="64" stroke-linecap="round"/><path d="M377.0 82.0 L377.0 150.0 L300.0 215.0 L63.9 462.3 M300.0 208.0 L164.1 180.8 M195.0 365.0 L229.9 467.7 M380.0 150.0 L470.0 285.0 L636.4 442.1 M470.0 290.0 L427.7 390.5 M565.0 335.0 L693.8 300.4" stroke="#fff" stroke-width="16" stroke-linecap="butt"/></g>
</svg>
</body></html>
